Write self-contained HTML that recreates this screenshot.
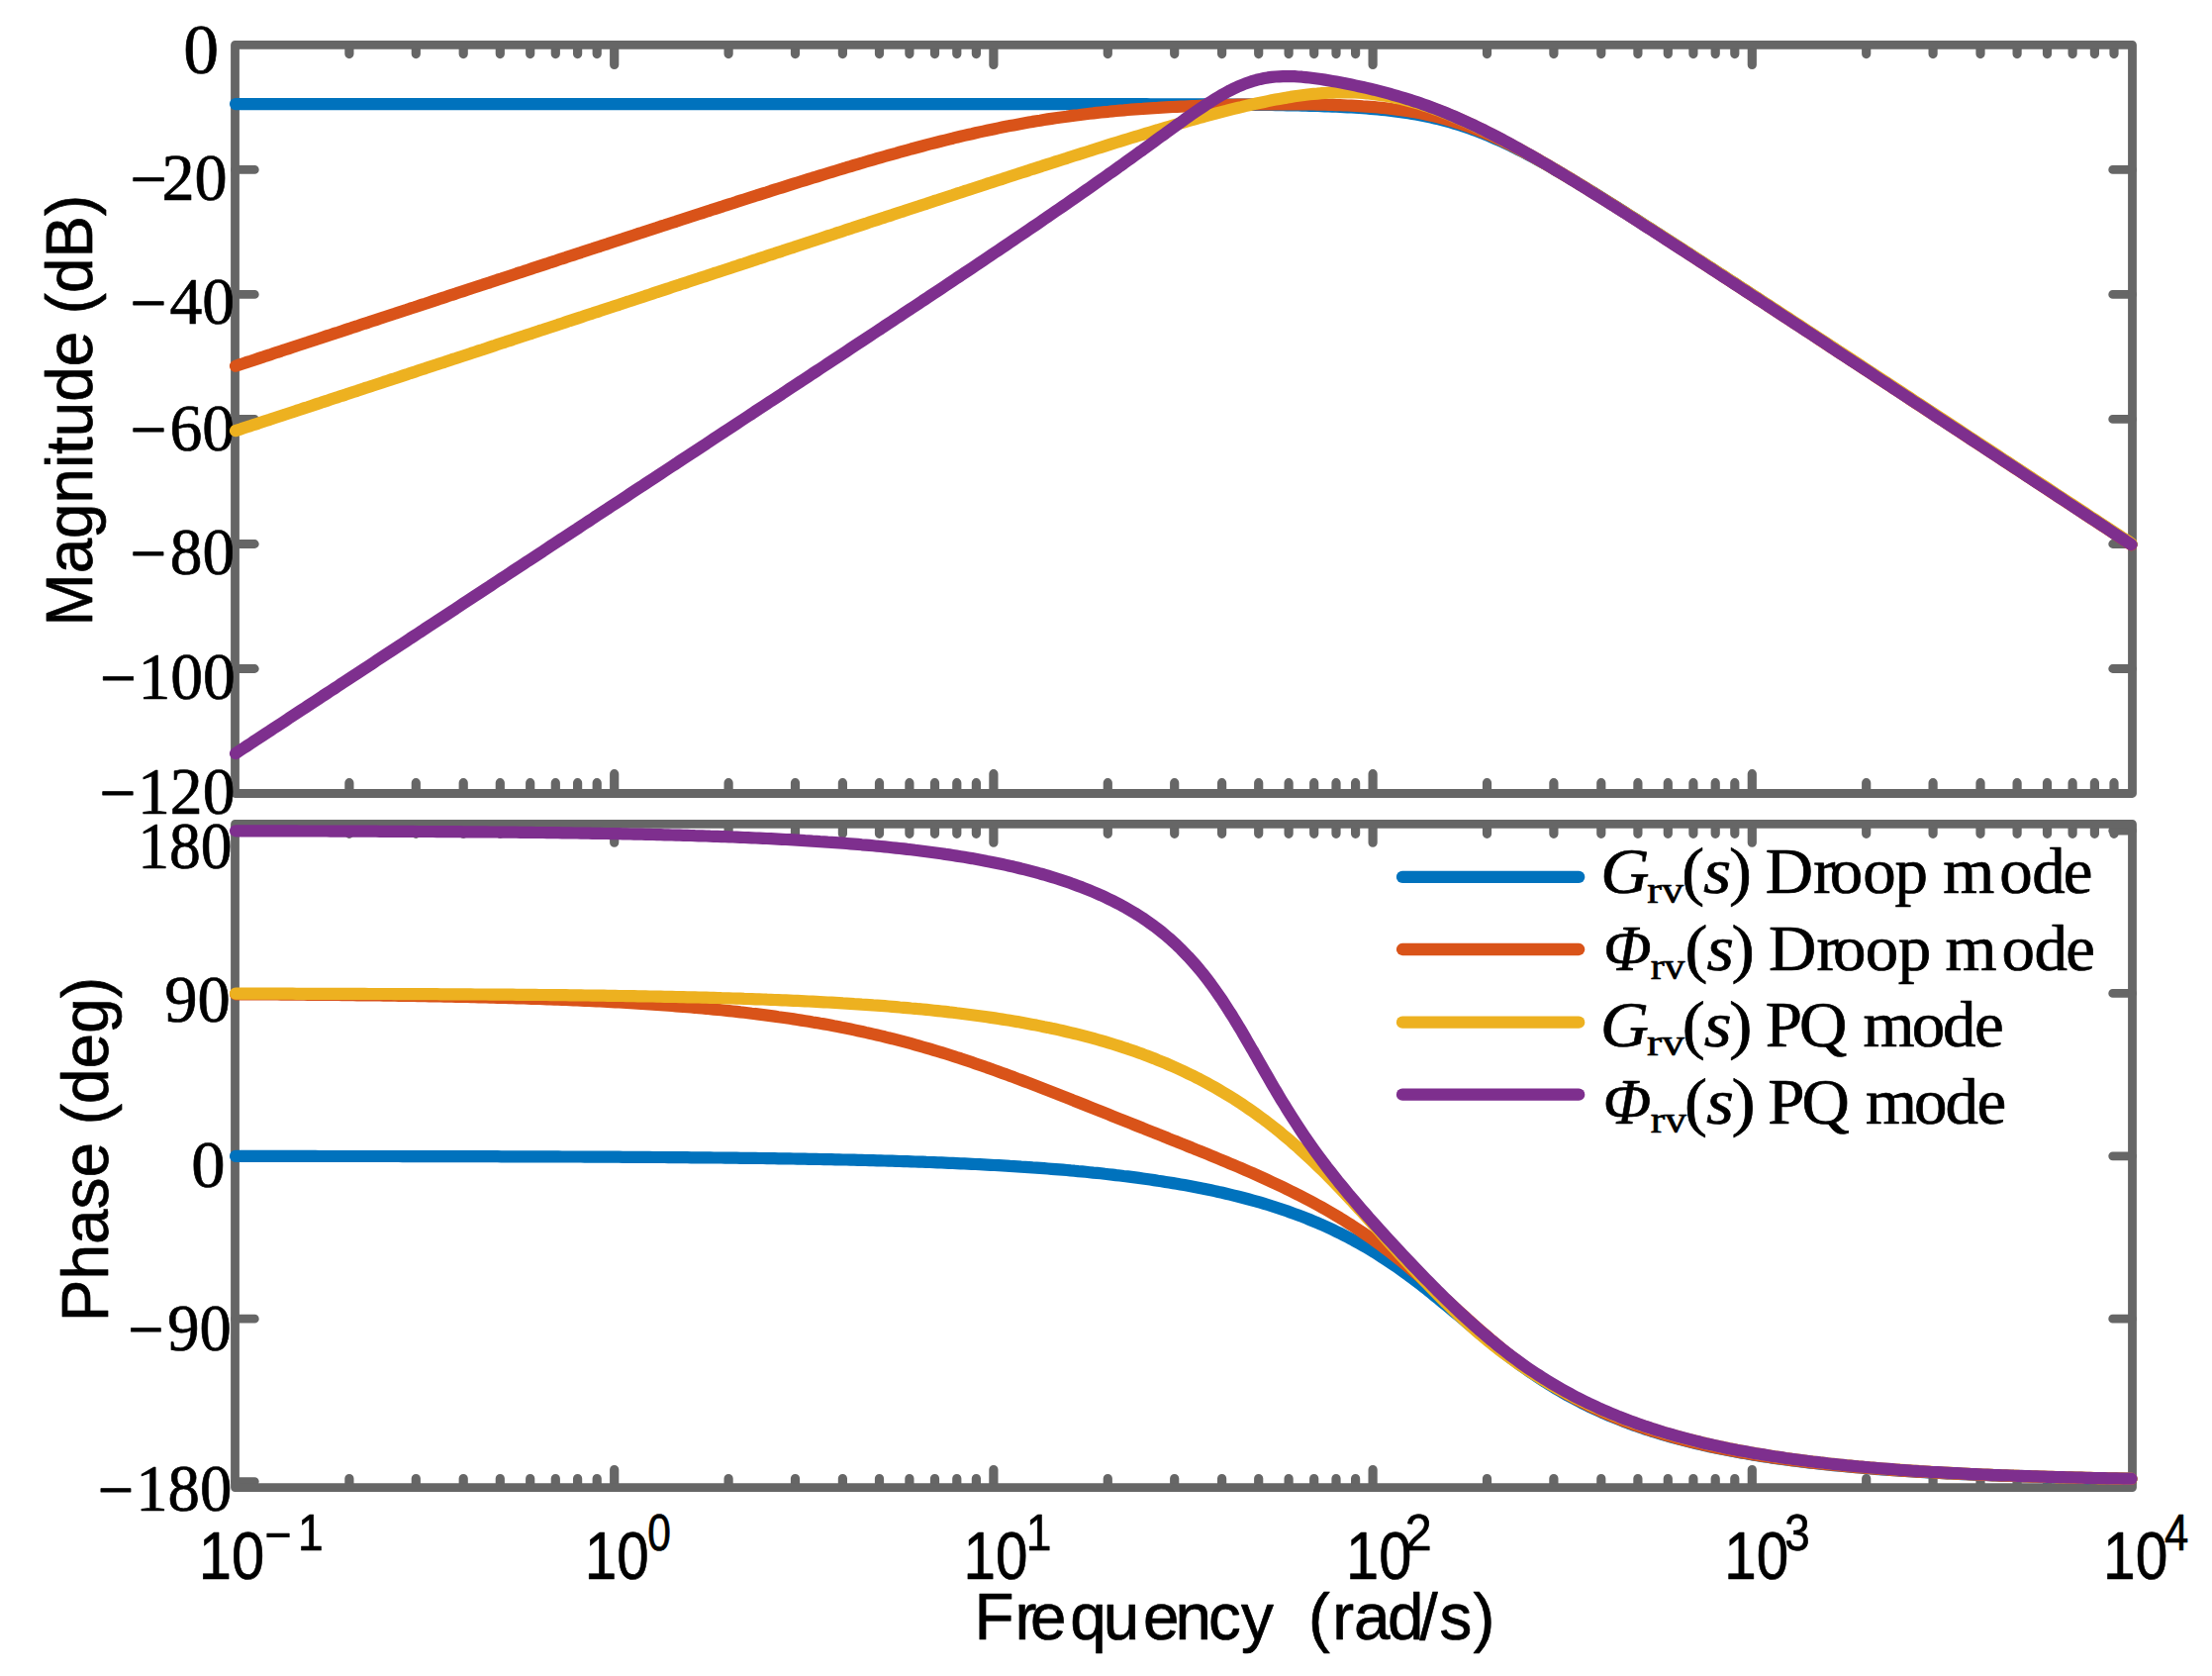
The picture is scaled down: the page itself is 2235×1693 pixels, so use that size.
<!DOCTYPE html>
<html lang="en"><head><meta charset="utf-8"><title>Bode plot</title>
<style>html,body{margin:0;padding:0;background:#fff}svg{display:block}text{fill:#000;stroke:#000;stroke-width:.7px;stroke-linejoin:round}
.sf{font-family:"Liberation Serif",serif}.sa{font-family:"Liberation Sans",sans-serif}.it{font-style:italic}</style></head><body>
<svg width="2235" height="1693" viewBox="0 0 2235 1693">
<rect width="2235" height="1693" fill="#fff"/>
<g fill="none" stroke="#666666" stroke-linecap="round" stroke-linejoin="round">
<path stroke-width="9.2" d="M352.9 46.4v8.2M352.9 800.5v-9.8M420.3 46.4v8.2M420.3 800.5v-9.8M468.2 46.4v8.2M468.2 800.5v-9.8M505.3 46.4v8.2M505.3 800.5v-9.8M535.7 46.4v8.2M535.7 800.5v-9.8M561.3 46.4v8.2M561.3 800.5v-9.8M583.6 46.4v8.2M583.6 800.5v-9.8M603.2 46.4v8.2M603.2 800.5v-9.8M620.7 46.4v19.0M620.7 800.5v-18.8M736.1 46.4v8.2M736.1 800.5v-9.8M803.5 46.4v8.2M803.5 800.5v-9.8M851.4 46.4v8.2M851.4 800.5v-9.8M888.5 46.4v8.2M888.5 800.5v-9.8M918.9 46.4v8.2M918.9 800.5v-9.8M944.5 46.4v8.2M944.5 800.5v-9.8M966.8 46.4v8.2M966.8 800.5v-9.8M986.4 46.4v8.2M986.4 800.5v-9.8M1003.9 46.4v19.0M1003.9 800.5v-18.8M1119.3 46.4v8.2M1119.3 800.5v-9.8M1186.7 46.4v8.2M1186.7 800.5v-9.8M1234.6 46.4v8.2M1234.6 800.5v-9.8M1271.7 46.4v8.2M1271.7 800.5v-9.8M1302.1 46.4v8.2M1302.1 800.5v-9.8M1327.7 46.4v8.2M1327.7 800.5v-9.8M1350.0 46.4v8.2M1350.0 800.5v-9.8M1369.6 46.4v8.2M1369.6 800.5v-9.8M1387.1 46.4v19.0M1387.1 800.5v-18.8M1502.5 46.4v8.2M1502.5 800.5v-9.8M1569.9 46.4v8.2M1569.9 800.5v-9.8M1617.8 46.4v8.2M1617.8 800.5v-9.8M1654.9 46.4v8.2M1654.9 800.5v-9.8M1685.3 46.4v8.2M1685.3 800.5v-9.8M1710.9 46.4v8.2M1710.9 800.5v-9.8M1733.2 46.4v8.2M1733.2 800.5v-9.8M1752.8 46.4v8.2M1752.8 800.5v-9.8M1770.3 46.4v19.0M1770.3 800.5v-18.8M1885.7 46.4v8.2M1885.7 800.5v-9.8M1953.1 46.4v8.2M1953.1 800.5v-9.8M2001.0 46.4v8.2M2001.0 800.5v-9.8M2038.1 46.4v8.2M2038.1 800.5v-9.8M2068.5 46.4v8.2M2068.5 800.5v-9.8M2094.1 46.4v8.2M2094.1 800.5v-9.8M2116.4 46.4v8.2M2116.4 800.5v-9.8M2136.0 46.4v8.2M2136.0 800.5v-9.8M352.9 833.4v8.9M352.9 1501.6v-8.1M420.3 833.4v8.9M420.3 1501.6v-8.1M468.2 833.4v8.9M468.2 1501.6v-8.1M505.3 833.4v8.9M505.3 1501.6v-8.1M535.7 833.4v8.9M535.7 1501.6v-8.1M561.3 833.4v8.9M561.3 1501.6v-8.1M583.6 833.4v8.9M583.6 1501.6v-8.1M603.2 833.4v8.9M603.2 1501.6v-8.1M620.7 833.4v17.8M620.7 1501.6v-17.1M736.1 833.4v8.9M736.1 1501.6v-8.1M803.5 833.4v8.9M803.5 1501.6v-8.1M851.4 833.4v8.9M851.4 1501.6v-8.1M888.5 833.4v8.9M888.5 1501.6v-8.1M918.9 833.4v8.9M918.9 1501.6v-8.1M944.5 833.4v8.9M944.5 1501.6v-8.1M966.8 833.4v8.9M966.8 1501.6v-8.1M986.4 833.4v8.9M986.4 1501.6v-8.1M1003.9 833.4v17.8M1003.9 1501.6v-17.1M1119.3 833.4v8.9M1119.3 1501.6v-8.1M1186.7 833.4v8.9M1186.7 1501.6v-8.1M1234.6 833.4v8.9M1234.6 1501.6v-8.1M1271.7 833.4v8.9M1271.7 1501.6v-8.1M1302.1 833.4v8.9M1302.1 1501.6v-8.1M1327.7 833.4v8.9M1327.7 1501.6v-8.1M1350.0 833.4v8.9M1350.0 1501.6v-8.1M1369.6 833.4v8.9M1369.6 1501.6v-8.1M1387.1 833.4v17.8M1387.1 1501.6v-17.1M1502.5 833.4v8.9M1502.5 1501.6v-8.1M1569.9 833.4v8.9M1569.9 1501.6v-8.1M1617.8 833.4v8.9M1617.8 1501.6v-8.1M1654.9 833.4v8.9M1654.9 1501.6v-8.1M1685.3 833.4v8.9M1685.3 1501.6v-8.1M1710.9 833.4v8.9M1710.9 1501.6v-8.1M1733.2 833.4v8.9M1733.2 1501.6v-8.1M1752.8 833.4v8.9M1752.8 1501.6v-8.1M1770.3 833.4v17.8M1770.3 1501.6v-17.1M1885.7 833.4v8.9M1885.7 1501.6v-8.1M1953.1 833.4v8.9M1953.1 1501.6v-8.1M2001.0 833.4v8.9M2001.0 1501.6v-8.1M2038.1 833.4v8.9M2038.1 1501.6v-8.1M2068.5 833.4v8.9M2068.5 1501.6v-8.1M2094.1 833.4v8.9M2094.1 1501.6v-8.1M2116.4 833.4v8.9M2116.4 1501.6v-8.1M2136.0 833.4v8.9M2136.0 1501.6v-8.1"/>
<path stroke-width="8.8" d="M237.5 171.4h19.8M2154.5 171.4h-19.8M237.5 297.4h19.8M2154.5 297.4h-19.8M237.5 423.4h19.8M2154.5 423.4h-19.8M237.5 549.5h19.8M2154.5 549.5h-19.8M237.5 675.5h19.8M2154.5 675.5h-19.8M237.5 839.0h19.8M2154.5 839.0h-19.8M237.5 1003.4h19.8M2154.5 1003.4h-19.8M237.5 1167.8h19.8M2154.5 1167.8h-19.8M237.5 1332.2h19.8M2154.5 1332.2h-19.8M237.5 1496.6h19.8M2154.5 1496.6h-19.8"/>
<rect x="237.5" y="45.4" width="1917.0" height="756.1" stroke-width="8.8"/>
<rect x="237.5" y="832.4" width="1917.0" height="670.2" stroke-width="8.8"/>
</g>
<text class="sf" x="185.17" y="74.00" font-size="71.0" textLength="35.86" lengthAdjust="spacingAndGlyphs">0</text>
<text class="sf" transform="translate(131.40 202.10) scale(0.9697 1)" font-size="68.3" dx="0 -5.43 0" dy="2 -2">−20</text>
<text class="sf" transform="translate(131.43 326.90) scale(0.9617 1)" font-size="68.3" dx="0 3.17 0" dy="2 -2">−40</text>
<text class="sf" transform="translate(131.43 455.20) scale(0.9623 1)" font-size="68.3" dx="0 3.1 0" dy="2 -2">−60</text>
<text class="sf" transform="translate(131.44 579.50) scale(0.9572 1)" font-size="68.3" dx="0 3.65 0" dy="2 -2">−80</text>
<text class="sf" transform="translate(100.93 706.30) scale(0.9612 1)" font-size="68.3" dx="0 1.54 0 0" dy="2 -2">−100</text>
<text class="sf" transform="translate(100.43 822.20) scale(0.9612 1)" font-size="68.3" dx="0 1.64 0 0" dy="2 -2">−120</text>
<text class="sf" x="139.21" y="877.20" font-size="68.3" textLength="95.41" lengthAdjust="spacingAndGlyphs">180</text>
<text class="sf" x="166.15" y="1031.60" font-size="68.3" textLength="66.58" lengthAdjust="spacingAndGlyphs">90</text>
<text class="sf" x="193.29" y="1198.50" font-size="68.3" textLength="34.33" lengthAdjust="spacingAndGlyphs">0</text>
<text class="sf" transform="translate(129.28 1363.50) scale(0.9465 1)" font-size="68.3" dx="0 3.68 0" dy="2 -2">−90</text>
<text class="sf" transform="translate(98.67 1526.40) scale(0.9494 1)" font-size="68.3" dx="0 2.06 0 0" dy="2 -2">−180</text>
<g fill="none" stroke-width="12.2" stroke-linecap="round" stroke-linejoin="round">
<path stroke="#0072BD" d="M238.0 105.1 L241.9 105.1 L245.7 105.1 L249.6 105.1 L253.4 105.1 L257.2 105.1 L261.1 105.1 L264.9 105.1 L268.7 105.1 L272.6 105.1 L276.4 105.1 L280.2 105.1 L284.1 105.1 L287.9 105.1 L291.7 105.1 L295.6 105.1 L299.4 105.1 L303.2 105.1 L307.1 105.1 L310.9 105.1 L314.7 105.1 L318.6 105.1 L322.4 105.1 L326.2 105.1 L330.1 105.1 L333.9 105.1 L337.8 105.1 L341.6 105.1 L345.4 105.1 L349.3 105.1 L353.1 105.1 L356.9 105.1 L360.8 105.1 L364.6 105.1 L368.4 105.1 L372.3 105.1 L376.1 105.1 L379.9 105.1 L383.8 105.1 L387.6 105.1 L391.4 105.1 L395.3 105.1 L399.1 105.1 L402.9 105.1 L406.8 105.1 L410.6 105.1 L414.4 105.1 L418.3 105.1 L422.1 105.1 L426.0 105.1 L429.8 105.1 L433.6 105.1 L437.5 105.1 L441.3 105.1 L445.1 105.1 L449.0 105.1 L452.8 105.1 L456.6 105.1 L460.5 105.1 L464.3 105.1 L468.1 105.1 L472.0 105.1 L475.8 105.1 L479.6 105.1 L483.5 105.1 L487.3 105.1 L491.1 105.1 L495.0 105.1 L498.8 105.1 L502.6 105.1 L506.5 105.1 L510.3 105.1 L514.1 105.1 L518.0 105.1 L521.8 105.1 L525.7 105.1 L529.5 105.1 L533.3 105.1 L537.2 105.1 L541.0 105.1 L544.8 105.1 L548.7 105.1 L552.5 105.1 L556.3 105.1 L560.2 105.1 L564.0 105.1 L567.8 105.1 L571.7 105.1 L575.5 105.1 L579.3 105.1 L583.2 105.1 L587.0 105.1 L590.8 105.1 L594.7 105.1 L598.5 105.1 L602.3 105.1 L606.2 105.1 L610.0 105.1 L613.9 105.1 L617.7 105.1 L621.5 105.1 L625.4 105.1 L629.2 105.1 L633.0 105.1 L636.9 105.1 L640.7 105.1 L644.5 105.1 L648.4 105.1 L652.2 105.1 L656.0 105.1 L659.9 105.1 L663.7 105.1 L667.5 105.1 L671.4 105.1 L675.2 105.1 L679.0 105.1 L682.9 105.1 L686.7 105.1 L690.5 105.1 L694.4 105.1 L698.2 105.1 L702.1 105.1 L705.9 105.1 L709.7 105.1 L713.6 105.1 L717.4 105.1 L721.2 105.1 L725.1 105.1 L728.9 105.1 L732.7 105.1 L736.6 105.1 L740.4 105.1 L744.2 105.1 L748.1 105.1 L751.9 105.1 L755.7 105.1 L759.6 105.1 L763.4 105.1 L767.2 105.1 L771.1 105.1 L774.9 105.1 L778.7 105.1 L782.6 105.1 L786.4 105.1 L790.3 105.1 L794.1 105.1 L797.9 105.1 L801.8 105.1 L805.6 105.1 L809.4 105.1 L813.3 105.1 L817.1 105.1 L820.9 105.1 L824.8 105.1 L828.6 105.1 L832.4 105.1 L836.3 105.1 L840.1 105.1 L843.9 105.1 L847.8 105.1 L851.6 105.1 L855.4 105.1 L859.3 105.1 L863.1 105.1 L866.9 105.1 L870.8 105.1 L874.6 105.1 L878.4 105.1 L882.3 105.1 L886.1 105.1 L890.0 105.1 L893.8 105.1 L897.6 105.1 L901.5 105.1 L905.3 105.1 L909.1 105.1 L913.0 105.1 L916.8 105.1 L920.6 105.1 L924.5 105.1 L928.3 105.1 L932.1 105.1 L936.0 105.1 L939.8 105.1 L943.6 105.1 L947.5 105.1 L951.3 105.1 L955.1 105.1 L959.0 105.1 L962.8 105.1 L966.6 105.1 L970.5 105.1 L974.3 105.1 L978.2 105.1 L982.0 105.1 L985.8 105.1 L989.7 105.1 L993.5 105.1 L997.3 105.1 L1001.2 105.1 L1005.0 105.1 L1008.8 105.1 L1012.7 105.1 L1016.5 105.1 L1020.3 105.1 L1024.2 105.1 L1028.0 105.1 L1031.8 105.1 L1035.7 105.1 L1039.5 105.1 L1043.3 105.1 L1047.2 105.1 L1051.0 105.1 L1054.8 105.1 L1058.7 105.1 L1062.5 105.1 L1066.4 105.1 L1070.2 105.1 L1074.0 105.1 L1077.9 105.1 L1081.7 105.1 L1085.5 105.1 L1089.4 105.2 L1093.2 105.2 L1097.0 105.2 L1100.9 105.2 L1104.7 105.2 L1108.5 105.2 L1112.4 105.2 L1116.2 105.2 L1120.0 105.2 L1123.9 105.2 L1127.7 105.2 L1131.5 105.2 L1135.4 105.2 L1139.2 105.2 L1143.0 105.2 L1146.9 105.2 L1150.7 105.2 L1154.6 105.2 L1158.4 105.2 L1162.2 105.3 L1166.1 105.3 L1169.9 105.3 L1173.7 105.3 L1177.6 105.3 L1181.4 105.3 L1185.2 105.3 L1189.1 105.3 L1192.9 105.3 L1196.7 105.3 L1200.6 105.4 L1204.4 105.4 L1208.2 105.4 L1212.1 105.4 L1215.9 105.4 L1219.7 105.4 L1223.6 105.5 L1227.4 105.5 L1231.2 105.5 L1235.1 105.5 L1238.9 105.6 L1242.7 105.6 L1246.6 105.6 L1250.4 105.6 L1254.3 105.7 L1258.1 105.7 L1261.9 105.7 L1265.8 105.8 L1269.6 105.8 L1273.4 105.9 L1277.3 105.9 L1281.1 106.0 L1284.9 106.0 L1288.8 106.1 L1292.6 106.1 L1296.4 106.2 L1300.3 106.3 L1304.1 106.3 L1307.9 106.4 L1311.8 106.5 L1315.6 106.6 L1319.4 106.7 L1323.3 106.8 L1327.1 106.9 L1330.9 107.0 L1334.8 107.1 L1338.6 107.3 L1342.5 107.4 L1346.3 107.6 L1350.1 107.7 L1354.0 107.9 L1357.8 108.1 L1361.6 108.3 L1365.5 108.5 L1369.3 108.7 L1373.1 109.0 L1377.0 109.2 L1380.8 109.5 L1384.6 109.8 L1388.5 110.1 L1392.3 110.5 L1396.1 110.9 L1400.0 111.3 L1403.8 111.7 L1407.6 112.1 L1411.5 112.6 L1415.3 113.1 L1419.1 113.7 L1423.0 114.3 L1426.8 114.9 L1430.7 115.6 L1434.5 116.3 L1438.3 117.0 L1442.2 117.8 L1446.0 118.6 L1449.8 119.5 L1453.7 120.4 L1457.5 121.4 L1461.3 122.4 L1465.2 123.5 L1469.0 124.6 L1472.8 125.8 L1476.7 127.0 L1480.5 128.3 L1484.3 129.6 L1488.2 131.0 L1492.0 132.4 L1495.8 133.9 L1499.7 135.4 L1503.5 137.0 L1507.3 138.6 L1511.2 140.3 L1515.0 142.0 L1518.9 143.7 L1522.7 145.5 L1526.5 147.4 L1530.4 149.3 L1534.2 151.2 L1538.0 153.1 L1541.9 155.1 L1545.7 157.2 L1549.5 159.2 L1553.4 161.3 L1557.2 163.4 L1561.0 165.5 L1564.9 167.7 L1568.7 169.9 L1572.5 172.1 L1576.4 174.3 L1580.2 176.6 L1584.0 178.9 L1587.9 181.1 L1591.7 183.4 L1595.5 185.7 L1599.4 188.1 L1603.2 190.4 L1607.0 192.8 L1610.9 195.1 L1614.7 197.5 L1618.6 199.9 L1622.4 202.3 L1626.2 204.7 L1630.1 207.1 L1633.9 209.5 L1637.7 211.9 L1641.6 214.4 L1645.4 216.8 L1649.2 219.3 L1653.1 221.7 L1656.9 224.2 L1660.7 226.6 L1664.6 229.1 L1668.4 231.5 L1672.2 234.0 L1676.1 236.5 L1679.9 239.0 L1683.7 241.4 L1687.6 243.9 L1691.4 246.4 L1695.2 248.9 L1699.1 251.4 L1702.9 253.9 L1706.8 256.3 L1710.6 258.8 L1714.4 261.3 L1718.3 263.8 L1722.1 266.3 L1725.9 268.8 L1729.8 271.3 L1733.6 273.8 L1737.4 276.3 L1741.3 278.8 L1745.1 281.3 L1748.9 283.8 L1752.8 286.4 L1756.6 288.9 L1760.4 291.4 L1764.3 293.9 L1768.1 296.4 L1771.9 298.9 L1775.8 301.4 L1779.6 303.9 L1783.4 306.4 L1787.3 308.9 L1791.1 311.5 L1795.0 314.0 L1798.8 316.5 L1802.6 319.0 L1806.5 321.5 L1810.3 324.0 L1814.1 326.6 L1818.0 329.1 L1821.8 331.6 L1825.6 334.1 L1829.5 336.6 L1833.3 339.1 L1837.1 341.7 L1841.0 344.2 L1844.8 346.7 L1848.6 349.2 L1852.5 351.7 L1856.3 354.2 L1860.1 356.8 L1864.0 359.3 L1867.8 361.8 L1871.6 364.3 L1875.5 366.8 L1879.3 369.4 L1883.2 371.9 L1887.0 374.4 L1890.8 376.9 L1894.7 379.4 L1898.5 382.0 L1902.3 384.5 L1906.2 387.0 L1910.0 389.5 L1913.8 392.0 L1917.7 394.6 L1921.5 397.1 L1925.3 399.6 L1929.2 402.1 L1933.0 404.6 L1936.8 407.2 L1940.7 409.7 L1944.5 412.2 L1948.3 414.7 L1952.2 417.2 L1956.0 419.8 L1959.8 422.3 L1963.7 424.8 L1967.5 427.3 L1971.3 429.8 L1975.2 432.4 L1979.0 434.9 L1982.9 437.4 L1986.7 439.9 L1990.5 442.5 L1994.4 445.0 L1998.2 447.5 L2002.0 450.0 L2005.9 452.5 L2009.7 455.1 L2013.5 457.6 L2017.4 460.1 L2021.2 462.6 L2025.0 465.1 L2028.9 467.7 L2032.7 470.2 L2036.5 472.7 L2040.4 475.2 L2044.2 477.8 L2048.0 480.3 L2051.9 482.8 L2055.7 485.3 L2059.5 487.8 L2063.4 490.4 L2067.2 492.9 L2071.1 495.4 L2074.9 497.9 L2078.7 500.5 L2082.6 503.0 L2086.4 505.5 L2090.2 508.0 L2094.1 510.5 L2097.9 513.1 L2101.7 515.6 L2105.6 518.1 L2109.4 520.6 L2113.2 523.2 L2117.1 525.7 L2120.9 528.2 L2124.7 530.7 L2128.6 533.2 L2132.4 535.8 L2136.2 538.3 L2140.1 540.8 L2143.9 543.3 L2147.7 545.9 L2151.6 548.4 L2153.5 549.6"/>
<path stroke="#D95319" d="M238.0 369.7 L241.9 368.4 L245.7 367.2 L249.6 365.9 L253.4 364.7 L257.2 363.4 L261.1 362.1 L264.9 360.9 L268.7 359.6 L272.6 358.4 L276.4 357.1 L280.2 355.8 L284.1 354.6 L287.9 353.3 L291.7 352.1 L295.6 350.8 L299.4 349.5 L303.2 348.3 L307.1 347.0 L310.9 345.8 L314.7 344.5 L318.6 343.2 L322.4 342.0 L326.2 340.7 L330.1 339.4 L333.9 338.2 L337.8 336.9 L341.6 335.7 L345.4 334.4 L349.3 333.1 L353.1 331.9 L356.9 330.6 L360.8 329.4 L364.6 328.1 L368.4 326.8 L372.3 325.6 L376.1 324.3 L379.9 323.1 L383.8 321.8 L387.6 320.5 L391.4 319.3 L395.3 318.0 L399.1 316.8 L402.9 315.5 L406.8 314.2 L410.6 313.0 L414.4 311.7 L418.3 310.5 L422.1 309.2 L426.0 307.9 L429.8 306.7 L433.6 305.4 L437.5 304.1 L441.3 302.9 L445.1 301.6 L449.0 300.4 L452.8 299.1 L456.6 297.8 L460.5 296.6 L464.3 295.3 L468.1 294.1 L472.0 292.8 L475.8 291.5 L479.6 290.3 L483.5 289.0 L487.3 287.8 L491.1 286.5 L495.0 285.3 L498.8 284.0 L502.6 282.7 L506.5 281.5 L510.3 280.2 L514.1 279.0 L518.0 277.7 L521.8 276.4 L525.7 275.2 L529.5 273.9 L533.3 272.7 L537.2 271.4 L541.0 270.1 L544.8 268.9 L548.7 267.6 L552.5 266.4 L556.3 265.1 L560.2 263.9 L564.0 262.6 L567.8 261.3 L571.7 260.1 L575.5 258.8 L579.3 257.6 L583.2 256.3 L587.0 255.1 L590.8 253.8 L594.7 252.5 L598.5 251.3 L602.3 250.0 L606.2 248.8 L610.0 247.5 L613.9 246.3 L617.7 245.0 L621.5 243.8 L625.4 242.5 L629.2 241.3 L633.0 240.0 L636.9 238.7 L640.7 237.5 L644.5 236.2 L648.4 235.0 L652.2 233.7 L656.0 232.5 L659.9 231.2 L663.7 230.0 L667.5 228.7 L671.4 227.5 L675.2 226.2 L679.0 225.0 L682.9 223.8 L686.7 222.5 L690.5 221.3 L694.4 220.0 L698.2 218.8 L702.1 217.5 L705.9 216.3 L709.7 215.1 L713.6 213.8 L717.4 212.6 L721.2 211.3 L725.1 210.1 L728.9 208.9 L732.7 207.6 L736.6 206.4 L740.4 205.2 L744.2 203.9 L748.1 202.7 L751.9 201.5 L755.7 200.3 L759.6 199.0 L763.4 197.8 L767.2 196.6 L771.1 195.4 L774.9 194.2 L778.7 192.9 L782.6 191.7 L786.4 190.5 L790.3 189.3 L794.1 188.1 L797.9 186.9 L801.8 185.7 L805.6 184.5 L809.4 183.3 L813.3 182.1 L817.1 180.9 L820.9 179.7 L824.8 178.6 L828.6 177.4 L832.4 176.2 L836.3 175.0 L840.1 173.9 L843.9 172.7 L847.8 171.5 L851.6 170.4 L855.4 169.2 L859.3 168.1 L863.1 166.9 L866.9 165.8 L870.8 164.7 L874.6 163.5 L878.4 162.4 L882.3 161.3 L886.1 160.2 L890.0 159.1 L893.8 158.0 L897.6 156.9 L901.5 155.8 L905.3 154.8 L909.1 153.7 L913.0 152.6 L916.8 151.6 L920.6 150.5 L924.5 149.5 L928.3 148.5 L932.1 147.5 L936.0 146.4 L939.8 145.4 L943.6 144.5 L947.5 143.5 L951.3 142.5 L955.1 141.6 L959.0 140.6 L962.8 139.7 L966.6 138.7 L970.5 137.8 L974.3 136.9 L978.2 136.0 L982.0 135.2 L985.8 134.3 L989.7 133.4 L993.5 132.6 L997.3 131.8 L1001.2 131.0 L1005.0 130.2 L1008.8 129.4 L1012.7 128.6 L1016.5 127.8 L1020.3 127.1 L1024.2 126.4 L1028.0 125.7 L1031.8 125.0 L1035.7 124.3 L1039.5 123.6 L1043.3 122.9 L1047.2 122.3 L1051.0 121.7 L1054.8 121.0 L1058.7 120.4 L1062.5 119.9 L1066.4 119.3 L1070.2 118.7 L1074.0 118.2 L1077.9 117.7 L1081.7 117.1 L1085.5 116.6 L1089.4 116.2 L1093.2 115.7 L1097.0 115.2 L1100.9 114.8 L1104.7 114.4 L1108.5 113.9 L1112.4 113.5 L1116.2 113.1 L1120.0 112.8 L1123.9 112.4 L1127.7 112.0 L1131.5 111.7 L1135.4 111.4 L1139.2 111.0 L1143.0 110.7 L1146.9 110.4 L1150.7 110.1 L1154.6 109.9 L1158.4 109.6 L1162.2 109.3 L1166.1 109.1 L1169.9 108.9 L1173.7 108.6 L1177.6 108.4 L1181.4 108.2 L1185.2 108.0 L1189.1 107.8 L1192.9 107.6 L1196.7 107.5 L1200.6 107.3 L1204.4 107.1 L1208.2 107.0 L1212.1 106.8 L1215.9 106.7 L1219.7 106.6 L1223.6 106.4 L1227.4 106.3 L1231.2 106.2 L1235.1 106.1 L1238.9 106.0 L1242.7 105.9 L1246.6 105.8 L1250.4 105.7 L1254.3 105.7 L1258.1 105.6 L1261.9 105.5 L1265.8 105.5 L1269.6 105.4 L1273.4 105.4 L1277.3 105.3 L1281.1 105.3 L1284.9 105.3 L1288.8 105.3 L1292.6 105.3 L1296.4 105.3 L1300.3 105.3 L1304.1 105.3 L1307.9 105.3 L1311.8 105.3 L1315.6 105.3 L1319.4 105.4 L1323.3 105.4 L1327.1 105.5 L1330.9 105.6 L1334.8 105.6 L1338.6 105.7 L1342.5 105.8 L1346.3 105.9 L1350.1 106.1 L1354.0 106.2 L1357.8 106.3 L1361.6 106.5 L1365.5 106.7 L1369.3 106.9 L1373.1 107.1 L1377.0 107.4 L1380.8 107.6 L1384.6 107.9 L1388.5 108.2 L1392.3 108.5 L1396.1 108.9 L1400.0 109.3 L1403.8 109.7 L1407.6 110.2 L1411.5 110.6 L1415.3 111.1 L1419.1 111.7 L1423.0 112.3 L1426.8 112.9 L1430.7 113.6 L1434.5 114.3 L1438.3 115.1 L1442.2 115.9 L1446.0 116.7 L1449.8 117.6 L1453.7 118.6 L1457.5 119.6 L1461.3 120.7 L1465.2 121.8 L1469.0 122.9 L1472.8 124.2 L1476.7 125.4 L1480.5 126.8 L1484.3 128.1 L1488.2 129.6 L1492.0 131.0 L1495.8 132.6 L1499.7 134.2 L1503.5 135.8 L1507.3 137.5 L1511.2 139.2 L1515.0 141.0 L1518.9 142.8 L1522.7 144.7 L1526.5 146.6 L1530.4 148.5 L1534.2 150.5 L1538.0 152.5 L1541.9 154.6 L1545.7 156.6 L1549.5 158.7 L1553.4 160.9 L1557.2 163.0 L1561.0 165.2 L1564.9 167.4 L1568.7 169.7 L1572.5 171.9 L1576.4 174.2 L1580.2 176.5 L1584.0 178.8 L1587.9 181.1 L1591.7 183.4 L1595.5 185.8 L1599.4 188.1 L1603.2 190.5 L1607.0 192.9 L1610.9 195.3 L1614.7 197.7 L1618.6 200.1 L1622.4 202.5 L1626.2 204.9 L1630.1 207.3 L1633.9 209.8 L1637.7 212.2 L1641.6 214.7 L1645.4 217.1 L1649.2 219.6 L1653.1 222.0 L1656.9 224.5 L1660.7 227.0 L1664.6 229.5 L1668.4 231.9 L1672.2 234.4 L1676.1 236.9 L1679.9 239.4 L1683.7 241.9 L1687.6 244.4 L1691.4 246.9 L1695.2 249.3 L1699.1 251.8 L1702.9 254.3 L1706.8 256.8 L1710.6 259.3 L1714.4 261.8 L1718.3 264.3 L1722.1 266.8 L1725.9 269.4 L1729.8 271.9 L1733.6 274.4 L1737.4 276.9 L1741.3 279.4 L1745.1 281.9 L1748.9 284.4 L1752.8 286.9 L1756.6 289.4 L1760.4 291.9 L1764.3 294.4 L1768.1 297.0 L1771.9 299.5 L1775.8 302.0 L1779.6 304.5 L1783.4 307.0 L1787.3 309.5 L1791.1 312.1 L1795.0 314.6 L1798.8 317.1 L1802.6 319.6 L1806.5 322.1 L1810.3 324.6 L1814.1 327.2 L1818.0 329.7 L1821.8 332.2 L1825.6 334.7 L1829.5 337.2 L1833.3 339.7 L1837.1 342.3 L1841.0 344.8 L1844.8 347.3 L1848.6 349.8 L1852.5 352.3 L1856.3 354.9 L1860.1 357.4 L1864.0 359.9 L1867.8 362.4 L1871.6 364.9 L1875.5 367.5 L1879.3 370.0 L1883.2 372.5 L1887.0 375.0 L1890.8 377.5 L1894.7 380.1 L1898.5 382.6 L1902.3 385.1 L1906.2 387.6 L1910.0 390.1 L1913.8 392.7 L1917.7 395.2 L1921.5 397.7 L1925.3 400.2 L1929.2 402.8 L1933.0 405.3 L1936.8 407.8 L1940.7 410.3 L1944.5 412.8 L1948.3 415.4 L1952.2 417.9 L1956.0 420.4 L1959.8 422.9 L1963.7 425.4 L1967.5 428.0 L1971.3 430.5 L1975.2 433.0 L1979.0 435.5 L1982.9 438.1 L1986.7 440.6 L1990.5 443.1 L1994.4 445.6 L1998.2 448.1 L2002.0 450.7 L2005.9 453.2 L2009.7 455.7 L2013.5 458.2 L2017.4 460.7 L2021.2 463.3 L2025.0 465.8 L2028.9 468.3 L2032.7 470.8 L2036.5 473.4 L2040.4 475.9 L2044.2 478.4 L2048.0 480.9 L2051.9 483.4 L2055.7 486.0 L2059.5 488.5 L2063.4 491.0 L2067.2 493.5 L2071.1 496.1 L2074.9 498.6 L2078.7 501.1 L2082.6 503.6 L2086.4 506.1 L2090.2 508.7 L2094.1 511.2 L2097.9 513.7 L2101.7 516.2 L2105.6 518.8 L2109.4 521.3 L2113.2 523.8 L2117.1 526.3 L2120.9 528.8 L2124.7 531.4 L2128.6 533.9 L2132.4 536.4 L2136.2 538.9 L2140.1 541.4 L2143.9 544.0 L2147.7 546.5 L2151.6 549.0 L2153.5 550.3"/>
<path stroke="#EDB120" d="M238.0 435.1 L241.9 433.9 L245.7 432.6 L249.6 431.3 L253.4 430.1 L257.2 428.8 L261.1 427.6 L264.9 426.3 L268.7 425.0 L272.6 423.8 L276.4 422.5 L280.2 421.3 L284.1 420.0 L287.9 418.7 L291.7 417.5 L295.6 416.2 L299.4 414.9 L303.2 413.7 L307.1 412.4 L310.9 411.2 L314.7 409.9 L318.6 408.6 L322.4 407.4 L326.2 406.1 L330.1 404.9 L333.9 403.6 L337.8 402.3 L341.6 401.1 L345.4 399.8 L349.3 398.6 L353.1 397.3 L356.9 396.0 L360.8 394.8 L364.6 393.5 L368.4 392.2 L372.3 391.0 L376.1 389.7 L379.9 388.5 L383.8 387.2 L387.6 385.9 L391.4 384.7 L395.3 383.4 L399.1 382.2 L402.9 380.9 L406.8 379.6 L410.6 378.4 L414.4 377.1 L418.3 375.9 L422.1 374.6 L426.0 373.3 L429.8 372.1 L433.6 370.8 L437.5 369.5 L441.3 368.3 L445.1 367.0 L449.0 365.8 L452.8 364.5 L456.6 363.2 L460.5 362.0 L464.3 360.7 L468.1 359.5 L472.0 358.2 L475.8 356.9 L479.6 355.7 L483.5 354.4 L487.3 353.2 L491.1 351.9 L495.0 350.6 L498.8 349.4 L502.6 348.1 L506.5 346.8 L510.3 345.6 L514.1 344.3 L518.0 343.1 L521.8 341.8 L525.7 340.5 L529.5 339.3 L533.3 338.0 L537.2 336.8 L541.0 335.5 L544.8 334.2 L548.7 333.0 L552.5 331.7 L556.3 330.5 L560.2 329.2 L564.0 327.9 L567.8 326.7 L571.7 325.4 L575.5 324.1 L579.3 322.9 L583.2 321.6 L587.0 320.4 L590.8 319.1 L594.7 317.8 L598.5 316.6 L602.3 315.3 L606.2 314.1 L610.0 312.8 L613.9 311.5 L617.7 310.3 L621.5 309.0 L625.4 307.8 L629.2 306.5 L633.0 305.2 L636.9 304.0 L640.7 302.7 L644.5 301.5 L648.4 300.2 L652.2 298.9 L656.0 297.7 L659.9 296.4 L663.7 295.1 L667.5 293.9 L671.4 292.6 L675.2 291.4 L679.0 290.1 L682.9 288.8 L686.7 287.6 L690.5 286.3 L694.4 285.1 L698.2 283.8 L702.1 282.5 L705.9 281.3 L709.7 280.0 L713.6 278.8 L717.4 277.5 L721.2 276.2 L725.1 275.0 L728.9 273.7 L732.7 272.5 L736.6 271.2 L740.4 269.9 L744.2 268.7 L748.1 267.4 L751.9 266.2 L755.7 264.9 L759.6 263.6 L763.4 262.4 L767.2 261.1 L771.1 259.9 L774.9 258.6 L778.7 257.3 L782.6 256.1 L786.4 254.8 L790.3 253.6 L794.1 252.3 L797.9 251.0 L801.8 249.8 L805.6 248.5 L809.4 247.3 L813.3 246.0 L817.1 244.7 L820.9 243.5 L824.8 242.2 L828.6 241.0 L832.4 239.7 L836.3 238.4 L840.1 237.2 L843.9 235.9 L847.8 234.7 L851.6 233.4 L855.4 232.1 L859.3 230.9 L863.1 229.6 L866.9 228.4 L870.8 227.1 L874.6 225.9 L878.4 224.6 L882.3 223.3 L886.1 222.1 L890.0 220.8 L893.8 219.6 L897.6 218.3 L901.5 217.1 L905.3 215.8 L909.1 214.5 L913.0 213.3 L916.8 212.0 L920.6 210.8 L924.5 209.5 L928.3 208.3 L932.1 207.0 L936.0 205.8 L939.8 204.5 L943.6 203.2 L947.5 202.0 L951.3 200.7 L955.1 199.5 L959.0 198.2 L962.8 197.0 L966.6 195.7 L970.5 194.5 L974.3 193.2 L978.2 192.0 L982.0 190.7 L985.8 189.5 L989.7 188.2 L993.5 187.0 L997.3 185.7 L1001.2 184.5 L1005.0 183.2 L1008.8 182.0 L1012.7 180.8 L1016.5 179.5 L1020.3 178.3 L1024.2 177.0 L1028.0 175.8 L1031.8 174.5 L1035.7 173.3 L1039.5 172.1 L1043.3 170.8 L1047.2 169.6 L1051.0 168.4 L1054.8 167.1 L1058.7 165.9 L1062.5 164.7 L1066.4 163.4 L1070.2 162.2 L1074.0 161.0 L1077.9 159.8 L1081.7 158.5 L1085.5 157.3 L1089.4 156.1 L1093.2 154.9 L1097.0 153.7 L1100.9 152.5 L1104.7 151.2 L1108.5 150.0 L1112.4 148.8 L1116.2 147.6 L1120.0 146.4 L1123.9 145.2 L1127.7 144.0 L1131.5 142.9 L1135.4 141.7 L1139.2 140.5 L1143.0 139.3 L1146.9 138.1 L1150.7 137.0 L1154.6 135.8 L1158.4 134.6 L1162.2 133.5 L1166.1 132.3 L1169.9 131.2 L1173.7 130.0 L1177.6 128.9 L1181.4 127.8 L1185.2 126.7 L1189.1 125.5 L1192.9 124.4 L1196.7 123.3 L1200.6 122.2 L1204.4 121.2 L1208.2 120.1 L1212.1 119.0 L1215.9 118.0 L1219.7 116.9 L1223.6 115.9 L1227.4 114.9 L1231.2 113.8 L1235.1 112.8 L1238.9 111.9 L1242.7 110.9 L1246.6 109.9 L1250.4 109.0 L1254.3 108.1 L1258.1 107.1 L1261.9 106.3 L1265.8 105.4 L1269.6 104.5 L1273.4 103.7 L1277.3 102.9 L1281.1 102.1 L1284.9 101.3 L1288.8 100.6 L1292.6 99.9 L1296.4 99.2 L1300.3 98.6 L1304.1 97.9 L1307.9 97.3 L1311.8 96.8 L1315.6 96.3 L1319.4 95.8 L1323.3 95.3 L1327.1 94.9 L1330.9 94.6 L1334.8 94.2 L1338.6 94.0 L1342.5 93.7 L1346.3 93.6 L1350.1 93.4 L1354.0 93.3 L1357.8 93.3 L1361.6 93.3 L1365.5 93.4 L1369.3 93.5 L1373.1 93.7 L1377.0 94.0 L1380.8 94.3 L1384.6 94.7 L1388.5 95.1 L1392.3 95.6 L1396.1 96.2 L1400.0 96.8 L1403.8 97.4 L1407.6 98.2 L1411.5 99.0 L1415.3 99.9 L1419.1 100.8 L1423.0 101.8 L1426.8 102.8 L1430.7 103.9 L1434.5 105.0 L1438.3 106.3 L1442.2 107.5 L1446.0 108.8 L1449.8 110.2 L1453.7 111.6 L1457.5 113.1 L1461.3 114.6 L1465.2 116.2 L1469.0 117.8 L1472.8 119.4 L1476.7 121.1 L1480.5 122.8 L1484.3 124.5 L1488.2 126.3 L1492.0 128.2 L1495.8 130.0 L1499.7 131.9 L1503.5 133.8 L1507.3 135.8 L1511.2 137.7 L1515.0 139.7 L1518.9 141.8 L1522.7 143.8 L1526.5 145.9 L1530.4 148.0 L1534.2 150.1 L1538.0 152.2 L1541.9 154.4 L1545.7 156.5 L1549.5 158.7 L1553.4 160.9 L1557.2 163.1 L1561.0 165.4 L1564.9 167.6 L1568.7 169.9 L1572.5 172.1 L1576.4 174.4 L1580.2 176.7 L1584.0 179.0 L1587.9 181.3 L1591.7 183.6 L1595.5 186.0 L1599.4 188.3 L1603.2 190.6 L1607.0 193.0 L1610.9 195.4 L1614.7 197.7 L1618.6 200.1 L1622.4 202.5 L1626.2 204.9 L1630.1 207.3 L1633.9 209.7 L1637.7 212.1 L1641.6 214.5 L1645.4 216.9 L1649.2 219.4 L1653.1 221.8 L1656.9 224.2 L1660.7 226.7 L1664.6 229.1 L1668.4 231.5 L1672.2 234.0 L1676.1 236.4 L1679.9 238.9 L1683.7 241.4 L1687.6 243.8 L1691.4 246.3 L1695.2 248.7 L1699.1 251.2 L1702.9 253.7 L1706.8 256.2 L1710.6 258.6 L1714.4 261.1 L1718.3 263.6 L1722.1 266.1 L1725.9 268.6 L1729.8 271.0 L1733.6 273.5 L1737.4 276.0 L1741.3 278.5 L1745.1 281.0 L1748.9 283.5 L1752.8 286.0 L1756.6 288.5 L1760.4 291.0 L1764.3 293.5 L1768.1 296.0 L1771.9 298.5 L1775.8 301.0 L1779.6 303.5 L1783.4 306.0 L1787.3 308.5 L1791.1 311.0 L1795.0 313.5 L1798.8 316.0 L1802.6 318.5 L1806.5 321.0 L1810.3 323.5 L1814.1 326.0 L1818.0 328.5 L1821.8 331.0 L1825.6 333.6 L1829.5 336.1 L1833.3 338.6 L1837.1 341.1 L1841.0 343.6 L1844.8 346.1 L1848.6 348.6 L1852.5 351.1 L1856.3 353.7 L1860.1 356.2 L1864.0 358.7 L1867.8 361.2 L1871.6 363.7 L1875.5 366.2 L1879.3 368.7 L1883.2 371.3 L1887.0 373.8 L1890.8 376.3 L1894.7 378.8 L1898.5 381.3 L1902.3 383.8 L1906.2 386.4 L1910.0 388.9 L1913.8 391.4 L1917.7 393.9 L1921.5 396.4 L1925.3 399.0 L1929.2 401.5 L1933.0 404.0 L1936.8 406.5 L1940.7 409.0 L1944.5 411.6 L1948.3 414.1 L1952.2 416.6 L1956.0 419.1 L1959.8 421.6 L1963.7 424.2 L1967.5 426.7 L1971.3 429.2 L1975.2 431.7 L1979.0 434.2 L1982.9 436.8 L1986.7 439.3 L1990.5 441.8 L1994.4 444.3 L1998.2 446.8 L2002.0 449.4 L2005.9 451.9 L2009.7 454.4 L2013.5 456.9 L2017.4 459.4 L2021.2 462.0 L2025.0 464.5 L2028.9 467.0 L2032.7 469.5 L2036.5 472.0 L2040.4 474.6 L2044.2 477.1 L2048.0 479.6 L2051.9 482.1 L2055.7 484.7 L2059.5 487.2 L2063.4 489.7 L2067.2 492.2 L2071.1 494.7 L2074.9 497.3 L2078.7 499.8 L2082.6 502.3 L2086.4 504.8 L2090.2 507.3 L2094.1 509.9 L2097.9 512.4 L2101.7 514.9 L2105.6 517.4 L2109.4 520.0 L2113.2 522.5 L2117.1 525.0 L2120.9 527.5 L2124.7 530.0 L2128.6 532.6 L2132.4 535.1 L2136.2 537.6 L2140.1 540.1 L2143.9 542.7 L2147.7 545.2 L2151.6 547.7 L2153.5 549.0"/>
<path stroke="#7E2F8E" d="M238.0 761.1 L241.9 758.5 L245.7 756.0 L249.6 753.5 L253.4 751.0 L257.2 748.4 L261.1 745.9 L264.9 743.4 L268.7 740.9 L272.6 738.4 L276.4 735.8 L280.2 733.3 L284.1 730.8 L287.9 728.3 L291.7 725.7 L295.6 723.2 L299.4 720.7 L303.2 718.2 L307.1 715.7 L310.9 713.1 L314.7 710.6 L318.6 708.1 L322.4 705.6 L326.2 703.0 L330.1 700.5 L333.9 698.0 L337.8 695.5 L341.6 693.0 L345.4 690.4 L349.3 687.9 L353.1 685.4 L356.9 682.9 L360.8 680.3 L364.6 677.8 L368.4 675.3 L372.3 672.8 L376.1 670.3 L379.9 667.7 L383.8 665.2 L387.6 662.7 L391.4 660.2 L395.3 657.6 L399.1 655.1 L402.9 652.6 L406.8 650.1 L410.6 647.6 L414.4 645.0 L418.3 642.5 L422.1 640.0 L426.0 637.5 L429.8 634.9 L433.6 632.4 L437.5 629.9 L441.3 627.4 L445.1 624.9 L449.0 622.3 L452.8 619.8 L456.6 617.3 L460.5 614.8 L464.3 612.2 L468.1 609.7 L472.0 607.2 L475.8 604.7 L479.6 602.2 L483.5 599.6 L487.3 597.1 L491.1 594.6 L495.0 592.1 L498.8 589.5 L502.6 587.0 L506.5 584.5 L510.3 582.0 L514.1 579.5 L518.0 576.9 L521.8 574.4 L525.7 571.9 L529.5 569.4 L533.3 566.8 L537.2 564.3 L541.0 561.8 L544.8 559.3 L548.7 556.8 L552.5 554.2 L556.3 551.7 L560.2 549.2 L564.0 546.7 L567.8 544.1 L571.7 541.6 L575.5 539.1 L579.3 536.6 L583.2 534.1 L587.0 531.5 L590.8 529.0 L594.7 526.5 L598.5 524.0 L602.3 521.4 L606.2 518.9 L610.0 516.4 L613.9 513.9 L617.7 511.3 L621.5 508.8 L625.4 506.3 L629.2 503.8 L633.0 501.3 L636.9 498.7 L640.7 496.2 L644.5 493.7 L648.4 491.2 L652.2 488.6 L656.0 486.1 L659.9 483.6 L663.7 481.1 L667.5 478.6 L671.4 476.0 L675.2 473.5 L679.0 471.0 L682.9 468.5 L686.7 465.9 L690.5 463.4 L694.4 460.9 L698.2 458.4 L702.1 455.8 L705.9 453.3 L709.7 450.8 L713.6 448.3 L717.4 445.7 L721.2 443.2 L725.1 440.7 L728.9 438.2 L732.7 435.6 L736.6 433.1 L740.4 430.6 L744.2 428.1 L748.1 425.5 L751.9 423.0 L755.7 420.5 L759.6 418.0 L763.4 415.4 L767.2 412.9 L771.1 410.4 L774.9 407.9 L778.7 405.3 L782.6 402.8 L786.4 400.3 L790.3 397.8 L794.1 395.2 L797.9 392.7 L801.8 390.2 L805.6 387.7 L809.4 385.1 L813.3 382.6 L817.1 380.1 L820.9 377.5 L824.8 375.0 L828.6 372.5 L832.4 370.0 L836.3 367.4 L840.1 364.9 L843.9 362.4 L847.8 359.8 L851.6 357.3 L855.4 354.8 L859.3 352.2 L863.1 349.7 L866.9 347.2 L870.8 344.6 L874.6 342.1 L878.4 339.6 L882.3 337.0 L886.1 334.5 L890.0 332.0 L893.8 329.4 L897.6 326.9 L901.5 324.4 L905.3 321.8 L909.1 319.3 L913.0 316.7 L916.8 314.2 L920.6 311.6 L924.5 309.1 L928.3 306.6 L932.1 304.0 L936.0 301.5 L939.8 298.9 L943.6 296.4 L947.5 293.8 L951.3 291.3 L955.1 288.7 L959.0 286.1 L962.8 283.6 L966.6 281.0 L970.5 278.5 L974.3 275.9 L978.2 273.3 L982.0 270.8 L985.8 268.2 L989.7 265.6 L993.5 263.1 L997.3 260.5 L1001.2 257.9 L1005.0 255.3 L1008.8 252.8 L1012.7 250.2 L1016.5 247.6 L1020.3 245.0 L1024.2 242.4 L1028.0 239.8 L1031.8 237.2 L1035.7 234.6 L1039.5 232.0 L1043.3 229.4 L1047.2 226.8 L1051.0 224.2 L1054.8 221.5 L1058.7 218.9 L1062.5 216.3 L1066.4 213.6 L1070.2 211.0 L1074.0 208.4 L1077.9 205.7 L1081.7 203.0 L1085.5 200.4 L1089.4 197.7 L1093.2 195.0 L1097.0 192.4 L1100.9 189.7 L1104.7 187.0 L1108.5 184.3 L1112.4 181.6 L1116.2 178.9 L1120.0 176.1 L1123.9 173.4 L1127.7 170.7 L1131.5 167.9 L1135.4 165.2 L1139.2 162.4 L1143.0 159.7 L1146.9 156.9 L1150.7 154.1 L1154.6 151.4 L1158.4 148.6 L1162.2 145.8 L1166.1 143.0 L1169.9 140.2 L1173.7 137.4 L1177.6 134.7 L1181.4 131.9 L1185.2 129.1 L1189.1 126.3 L1192.9 123.6 L1196.7 120.8 L1200.6 118.1 L1204.4 115.4 L1208.2 112.8 L1212.1 110.2 L1215.9 107.6 L1219.7 105.0 L1223.6 102.6 L1227.4 100.2 L1231.2 97.9 L1235.1 95.6 L1238.9 93.5 L1242.7 91.4 L1246.6 89.5 L1250.4 87.7 L1254.3 86.1 L1258.1 84.5 L1261.9 83.2 L1265.8 81.9 L1269.6 80.8 L1273.4 79.9 L1277.3 79.1 L1281.1 78.4 L1284.9 77.9 L1288.8 77.5 L1292.6 77.3 L1296.4 77.1 L1300.3 77.1 L1304.1 77.1 L1307.9 77.2 L1311.8 77.5 L1315.6 77.7 L1319.4 78.1 L1323.3 78.5 L1327.1 79.0 L1330.9 79.5 L1334.8 80.0 L1338.6 80.6 L1342.5 81.2 L1346.3 81.9 L1350.1 82.6 L1354.0 83.3 L1357.8 84.0 L1361.6 84.8 L1365.5 85.6 L1369.3 86.4 L1373.1 87.2 L1377.0 88.0 L1380.8 88.9 L1384.6 89.8 L1388.5 90.7 L1392.3 91.7 L1396.1 92.7 L1400.0 93.7 L1403.8 94.7 L1407.6 95.8 L1411.5 96.9 L1415.3 98.0 L1419.1 99.1 L1423.0 100.3 L1426.8 101.6 L1430.7 102.8 L1434.5 104.1 L1438.3 105.4 L1442.2 106.8 L1446.0 108.2 L1449.8 109.6 L1453.7 111.1 L1457.5 112.6 L1461.3 114.2 L1465.2 115.8 L1469.0 117.4 L1472.8 119.1 L1476.7 120.8 L1480.5 122.5 L1484.3 124.2 L1488.2 126.0 L1492.0 127.9 L1495.8 129.7 L1499.7 131.6 L1503.5 133.6 L1507.3 135.5 L1511.2 137.5 L1515.0 139.5 L1518.9 141.5 L1522.7 143.6 L1526.5 145.7 L1530.4 147.8 L1534.2 149.9 L1538.0 152.0 L1541.9 154.2 L1545.7 156.4 L1549.5 158.6 L1553.4 160.8 L1557.2 163.1 L1561.0 165.3 L1564.9 167.6 L1568.7 169.9 L1572.5 172.2 L1576.4 174.5 L1580.2 176.8 L1584.0 179.1 L1587.9 181.5 L1591.7 183.8 L1595.5 186.2 L1599.4 188.5 L1603.2 190.9 L1607.0 193.3 L1610.9 195.7 L1614.7 198.1 L1618.6 200.5 L1622.4 202.9 L1626.2 205.3 L1630.1 207.7 L1633.9 210.2 L1637.7 212.6 L1641.6 215.0 L1645.4 217.5 L1649.2 219.9 L1653.1 222.4 L1656.9 224.8 L1660.7 227.3 L1664.6 229.8 L1668.4 232.2 L1672.2 234.7 L1676.1 237.2 L1679.9 239.6 L1683.7 242.1 L1687.6 244.6 L1691.4 247.1 L1695.2 249.5 L1699.1 252.0 L1702.9 254.5 L1706.8 257.0 L1710.6 259.5 L1714.4 262.0 L1718.3 264.5 L1722.1 267.0 L1725.9 269.5 L1729.8 272.0 L1733.6 274.5 L1737.4 277.0 L1741.3 279.5 L1745.1 282.0 L1748.9 284.5 L1752.8 287.0 L1756.6 289.5 L1760.4 292.0 L1764.3 294.5 L1768.1 297.0 L1771.9 299.5 L1775.8 302.0 L1779.6 304.5 L1783.4 307.0 L1787.3 309.5 L1791.1 312.0 L1795.0 314.6 L1798.8 317.1 L1802.6 319.6 L1806.5 322.1 L1810.3 324.6 L1814.1 327.1 L1818.0 329.6 L1821.8 332.1 L1825.6 334.7 L1829.5 337.2 L1833.3 339.7 L1837.1 342.2 L1841.0 344.7 L1844.8 347.2 L1848.6 349.8 L1852.5 352.3 L1856.3 354.8 L1860.1 357.3 L1864.0 359.8 L1867.8 362.3 L1871.6 364.9 L1875.5 367.4 L1879.3 369.9 L1883.2 372.4 L1887.0 374.9 L1890.8 377.4 L1894.7 380.0 L1898.5 382.5 L1902.3 385.0 L1906.2 387.5 L1910.0 390.0 L1913.8 392.6 L1917.7 395.1 L1921.5 397.6 L1925.3 400.1 L1929.2 402.6 L1933.0 405.2 L1936.8 407.7 L1940.7 410.2 L1944.5 412.7 L1948.3 415.2 L1952.2 417.8 L1956.0 420.3 L1959.8 422.8 L1963.7 425.3 L1967.5 427.8 L1971.3 430.4 L1975.2 432.9 L1979.0 435.4 L1982.9 437.9 L1986.7 440.4 L1990.5 443.0 L1994.4 445.5 L1998.2 448.0 L2002.0 450.5 L2005.9 453.1 L2009.7 455.6 L2013.5 458.1 L2017.4 460.6 L2021.2 463.1 L2025.0 465.7 L2028.9 468.2 L2032.7 470.7 L2036.5 473.2 L2040.4 475.7 L2044.2 478.3 L2048.0 480.8 L2051.9 483.3 L2055.7 485.8 L2059.5 488.4 L2063.4 490.9 L2067.2 493.4 L2071.1 495.9 L2074.9 498.4 L2078.7 501.0 L2082.6 503.5 L2086.4 506.0 L2090.2 508.5 L2094.1 511.1 L2097.9 513.6 L2101.7 516.1 L2105.6 518.6 L2109.4 521.1 L2113.2 523.7 L2117.1 526.2 L2120.9 528.7 L2124.7 531.2 L2128.6 533.7 L2132.4 536.3 L2136.2 538.8 L2140.1 541.3 L2143.9 543.8 L2147.7 546.4 L2151.6 548.9 L2153.5 550.1"/>
<path stroke="#0072BD" d="M238.0 1167.9 L241.9 1167.9 L245.7 1167.9 L249.6 1167.9 L253.4 1167.9 L257.2 1167.9 L261.1 1167.9 L264.9 1167.9 L268.7 1167.9 L272.6 1167.9 L276.4 1167.9 L280.2 1167.9 L284.1 1167.9 L287.9 1167.9 L291.7 1167.9 L295.6 1167.9 L299.4 1167.9 L303.2 1167.9 L307.1 1167.9 L310.9 1167.9 L314.7 1167.9 L318.6 1167.9 L322.4 1168.0 L326.2 1168.0 L330.1 1168.0 L333.9 1168.0 L337.8 1168.0 L341.6 1168.0 L345.4 1168.0 L349.3 1168.0 L353.1 1168.0 L356.9 1168.0 L360.8 1168.0 L364.6 1168.0 L368.4 1168.0 L372.3 1168.0 L376.1 1168.0 L379.9 1168.0 L383.8 1168.0 L387.6 1168.0 L391.4 1168.0 L395.3 1168.0 L399.1 1168.0 L402.9 1168.0 L406.8 1168.1 L410.6 1168.1 L414.4 1168.1 L418.3 1168.1 L422.1 1168.1 L426.0 1168.1 L429.8 1168.1 L433.6 1168.1 L437.5 1168.1 L441.3 1168.1 L445.1 1168.1 L449.0 1168.1 L452.8 1168.1 L456.6 1168.1 L460.5 1168.1 L464.3 1168.2 L468.1 1168.2 L472.0 1168.2 L475.8 1168.2 L479.6 1168.2 L483.5 1168.2 L487.3 1168.2 L491.1 1168.2 L495.0 1168.2 L498.8 1168.2 L502.6 1168.2 L506.5 1168.3 L510.3 1168.3 L514.1 1168.3 L518.0 1168.3 L521.8 1168.3 L525.7 1168.3 L529.5 1168.3 L533.3 1168.3 L537.2 1168.4 L541.0 1168.4 L544.8 1168.4 L548.7 1168.4 L552.5 1168.4 L556.3 1168.4 L560.2 1168.4 L564.0 1168.4 L567.8 1168.5 L571.7 1168.5 L575.5 1168.5 L579.3 1168.5 L583.2 1168.5 L587.0 1168.5 L590.8 1168.6 L594.7 1168.6 L598.5 1168.6 L602.3 1168.6 L606.2 1168.6 L610.0 1168.7 L613.9 1168.7 L617.7 1168.7 L621.5 1168.7 L625.4 1168.7 L629.2 1168.8 L633.0 1168.8 L636.9 1168.8 L640.7 1168.8 L644.5 1168.9 L648.4 1168.9 L652.2 1168.9 L656.0 1168.9 L659.9 1169.0 L663.7 1169.0 L667.5 1169.0 L671.4 1169.0 L675.2 1169.1 L679.0 1169.1 L682.9 1169.1 L686.7 1169.2 L690.5 1169.2 L694.4 1169.2 L698.2 1169.3 L702.1 1169.3 L705.9 1169.3 L709.7 1169.4 L713.6 1169.4 L717.4 1169.4 L721.2 1169.5 L725.1 1169.5 L728.9 1169.5 L732.7 1169.6 L736.6 1169.6 L740.4 1169.7 L744.2 1169.7 L748.1 1169.8 L751.9 1169.8 L755.7 1169.9 L759.6 1169.9 L763.4 1169.9 L767.2 1170.0 L771.1 1170.0 L774.9 1170.1 L778.7 1170.2 L782.6 1170.2 L786.4 1170.3 L790.3 1170.3 L794.1 1170.4 L797.9 1170.4 L801.8 1170.5 L805.6 1170.6 L809.4 1170.6 L813.3 1170.7 L817.1 1170.8 L820.9 1170.8 L824.8 1170.9 L828.6 1171.0 L832.4 1171.1 L836.3 1171.1 L840.1 1171.2 L843.9 1171.3 L847.8 1171.4 L851.6 1171.5 L855.4 1171.5 L859.3 1171.6 L863.1 1171.7 L866.9 1171.8 L870.8 1171.9 L874.6 1172.0 L878.4 1172.1 L882.3 1172.2 L886.1 1172.3 L890.0 1172.4 L893.8 1172.5 L897.6 1172.6 L901.5 1172.7 L905.3 1172.8 L909.1 1173.0 L913.0 1173.1 L916.8 1173.2 L920.6 1173.3 L924.5 1173.5 L928.3 1173.6 L932.1 1173.7 L936.0 1173.9 L939.8 1174.0 L943.6 1174.1 L947.5 1174.3 L951.3 1174.4 L955.1 1174.6 L959.0 1174.8 L962.8 1174.9 L966.6 1175.1 L970.5 1175.3 L974.3 1175.4 L978.2 1175.6 L982.0 1175.8 L985.8 1176.0 L989.7 1176.2 L993.5 1176.4 L997.3 1176.6 L1001.2 1176.8 L1005.0 1177.0 L1008.8 1177.2 L1012.7 1177.4 L1016.5 1177.6 L1020.3 1177.9 L1024.2 1178.1 L1028.0 1178.3 L1031.8 1178.6 L1035.7 1178.8 L1039.5 1179.1 L1043.3 1179.4 L1047.2 1179.6 L1051.0 1179.9 L1054.8 1180.2 L1058.7 1180.5 L1062.5 1180.8 L1066.4 1181.1 L1070.2 1181.4 L1074.0 1181.7 L1077.9 1182.0 L1081.7 1182.4 L1085.5 1182.7 L1089.4 1183.1 L1093.2 1183.4 L1097.0 1183.8 L1100.9 1184.2 L1104.7 1184.6 L1108.5 1184.9 L1112.4 1185.3 L1116.2 1185.8 L1120.0 1186.2 L1123.9 1186.6 L1127.7 1187.1 L1131.5 1187.5 L1135.4 1188.0 L1139.2 1188.4 L1143.0 1188.9 L1146.9 1189.4 L1150.7 1189.9 L1154.6 1190.5 L1158.4 1191.0 L1162.2 1191.5 L1166.1 1192.1 L1169.9 1192.7 L1173.7 1193.2 L1177.6 1193.9 L1181.4 1194.5 L1185.2 1195.1 L1189.1 1195.7 L1192.9 1196.4 L1196.7 1197.1 L1200.6 1197.8 L1204.4 1198.5 L1208.2 1199.2 L1212.1 1200.0 L1215.9 1200.7 L1219.7 1201.5 L1223.6 1202.3 L1227.4 1203.1 L1231.2 1204.0 L1235.1 1204.8 L1238.9 1205.7 L1242.7 1206.6 L1246.6 1207.6 L1250.4 1208.5 L1254.3 1209.5 L1258.1 1210.5 L1261.9 1211.5 L1265.8 1212.6 L1269.6 1213.6 L1273.4 1214.7 L1277.3 1215.9 L1281.1 1217.0 L1284.9 1218.2 L1288.8 1219.5 L1292.6 1220.7 L1296.4 1222.0 L1300.3 1223.3 L1304.1 1224.7 L1307.9 1226.1 L1311.8 1227.5 L1315.6 1228.9 L1319.4 1230.4 L1323.3 1232.0 L1327.1 1233.6 L1330.9 1235.2 L1334.8 1236.8 L1338.6 1238.5 L1342.5 1240.3 L1346.3 1242.1 L1350.1 1243.9 L1354.0 1245.8 L1357.8 1247.7 L1361.6 1249.7 L1365.5 1251.7 L1369.3 1253.8 L1373.1 1255.9 L1377.0 1258.1 L1380.8 1260.3 L1384.6 1262.6 L1388.5 1264.9 L1392.3 1267.3 L1396.1 1269.8 L1400.0 1272.3 L1403.8 1274.8 L1407.6 1277.4 L1411.5 1280.1 L1415.3 1282.8 L1419.1 1285.5 L1423.0 1288.3 L1426.8 1291.2 L1430.7 1294.1 L1434.5 1297.0 L1438.3 1300.0 L1442.2 1303.0 L1446.0 1306.1 L1449.8 1309.2 L1453.7 1312.3 L1457.5 1315.5 L1461.3 1318.6 L1465.2 1321.8 L1469.0 1325.0 L1472.8 1328.2 L1476.7 1331.4 L1480.5 1334.6 L1484.3 1337.9 L1488.2 1341.1 L1492.0 1344.2 L1495.8 1347.4 L1499.7 1350.6 L1503.5 1353.7 L1507.3 1356.8 L1511.2 1359.9 L1515.0 1362.9 L1518.9 1365.9 L1522.7 1368.9 L1526.5 1371.8 L1530.4 1374.7 L1534.2 1377.5 L1538.0 1380.3 L1541.9 1383.0 L1545.7 1385.7 L1549.5 1388.3 L1553.4 1390.9 L1557.2 1393.4 L1561.0 1395.9 L1564.9 1398.3 L1568.7 1400.7 L1572.5 1403.0 L1576.4 1405.2 L1580.2 1407.4 L1584.0 1409.6 L1587.9 1411.7 L1591.7 1413.7 L1595.5 1415.7 L1599.4 1417.7 L1603.2 1419.6 L1607.0 1421.5 L1610.9 1423.3 L1614.7 1425.0 L1618.6 1426.8 L1622.4 1428.4 L1626.2 1430.1 L1630.1 1431.7 L1633.9 1433.2 L1637.7 1434.7 L1641.6 1436.2 L1645.4 1437.7 L1649.2 1439.1 L1653.1 1440.4 L1656.9 1441.8 L1660.7 1443.1 L1664.6 1444.3 L1668.4 1445.6 L1672.2 1446.8 L1676.1 1448.0 L1679.9 1449.1 L1683.7 1450.2 L1687.6 1451.3 L1691.4 1452.4 L1695.2 1453.4 L1699.1 1454.4 L1702.9 1455.4 L1706.8 1456.4 L1710.6 1457.3 L1714.4 1458.2 L1718.3 1459.1 L1722.1 1460.0 L1725.9 1460.9 L1729.8 1461.7 L1733.6 1462.5 L1737.4 1463.3 L1741.3 1464.1 L1745.1 1464.8 L1748.9 1465.6 L1752.8 1466.3 L1756.6 1467.0 L1760.4 1467.7 L1764.3 1468.3 L1768.1 1469.0 L1771.9 1469.6 L1775.8 1470.3 L1779.6 1470.9 L1783.4 1471.5 L1787.3 1472.0 L1791.1 1472.6 L1795.0 1473.2 L1798.8 1473.7 L1802.6 1474.2 L1806.5 1474.7 L1810.3 1475.2 L1814.1 1475.7 L1818.0 1476.2 L1821.8 1476.7 L1825.6 1477.1 L1829.5 1477.6 L1833.3 1478.0 L1837.1 1478.4 L1841.0 1478.9 L1844.8 1479.3 L1848.6 1479.7 L1852.5 1480.1 L1856.3 1480.4 L1860.1 1480.8 L1864.0 1481.2 L1867.8 1481.5 L1871.6 1481.9 L1875.5 1482.2 L1879.3 1482.5 L1883.2 1482.9 L1887.0 1483.2 L1890.8 1483.5 L1894.7 1483.8 L1898.5 1484.1 L1902.3 1484.4 L1906.2 1484.6 L1910.0 1484.9 L1913.8 1485.2 L1917.7 1485.4 L1921.5 1485.7 L1925.3 1485.9 L1929.2 1486.2 L1933.0 1486.4 L1936.8 1486.7 L1940.7 1486.9 L1944.5 1487.1 L1948.3 1487.3 L1952.2 1487.5 L1956.0 1487.7 L1959.8 1487.9 L1963.7 1488.1 L1967.5 1488.3 L1971.3 1488.5 L1975.2 1488.7 L1979.0 1488.9 L1982.9 1489.1 L1986.7 1489.2 L1990.5 1489.4 L1994.4 1489.6 L1998.2 1489.7 L2002.0 1489.9 L2005.9 1490.0 L2009.7 1490.2 L2013.5 1490.3 L2017.4 1490.5 L2021.2 1490.6 L2025.0 1490.8 L2028.9 1490.9 L2032.7 1491.0 L2036.5 1491.1 L2040.4 1491.3 L2044.2 1491.4 L2048.0 1491.5 L2051.9 1491.6 L2055.7 1491.7 L2059.5 1491.8 L2063.4 1492.0 L2067.2 1492.1 L2071.1 1492.2 L2074.9 1492.3 L2078.7 1492.4 L2082.6 1492.5 L2086.4 1492.6 L2090.2 1492.6 L2094.1 1492.7 L2097.9 1492.8 L2101.7 1492.9 L2105.6 1493.0 L2109.4 1493.1 L2113.2 1493.2 L2117.1 1493.2 L2120.9 1493.3 L2124.7 1493.4 L2128.6 1493.5 L2132.4 1493.5 L2136.2 1493.6 L2140.1 1493.7 L2143.9 1493.7 L2147.7 1493.8 L2151.6 1493.9 L2153.5 1493.9"/>
<path stroke="#D95319" d="M238.0 1004.3 L241.9 1004.3 L245.7 1004.3 L249.6 1004.3 L253.4 1004.4 L257.2 1004.4 L261.1 1004.4 L264.9 1004.4 L268.7 1004.5 L272.6 1004.5 L276.4 1004.5 L280.2 1004.5 L284.1 1004.6 L287.9 1004.6 L291.7 1004.6 L295.6 1004.6 L299.4 1004.7 L303.2 1004.7 L307.1 1004.7 L310.9 1004.8 L314.7 1004.8 L318.6 1004.8 L322.4 1004.9 L326.2 1004.9 L330.1 1004.9 L333.9 1005.0 L337.8 1005.0 L341.6 1005.0 L345.4 1005.1 L349.3 1005.1 L353.1 1005.2 L356.9 1005.2 L360.8 1005.3 L364.6 1005.3 L368.4 1005.3 L372.3 1005.4 L376.1 1005.4 L379.9 1005.5 L383.8 1005.5 L387.6 1005.6 L391.4 1005.6 L395.3 1005.7 L399.1 1005.7 L402.9 1005.8 L406.8 1005.8 L410.6 1005.9 L414.4 1006.0 L418.3 1006.0 L422.1 1006.1 L426.0 1006.1 L429.8 1006.2 L433.6 1006.3 L437.5 1006.3 L441.3 1006.4 L445.1 1006.5 L449.0 1006.6 L452.8 1006.6 L456.6 1006.7 L460.5 1006.8 L464.3 1006.9 L468.1 1006.9 L472.0 1007.0 L475.8 1007.1 L479.6 1007.2 L483.5 1007.3 L487.3 1007.4 L491.1 1007.5 L495.0 1007.6 L498.8 1007.7 L502.6 1007.8 L506.5 1007.9 L510.3 1008.0 L514.1 1008.1 L518.0 1008.2 L521.8 1008.3 L525.7 1008.4 L529.5 1008.5 L533.3 1008.6 L537.2 1008.8 L541.0 1008.9 L544.8 1009.0 L548.7 1009.2 L552.5 1009.3 L556.3 1009.4 L560.2 1009.6 L564.0 1009.7 L567.8 1009.9 L571.7 1010.0 L575.5 1010.2 L579.3 1010.3 L583.2 1010.5 L587.0 1010.6 L590.8 1010.8 L594.7 1011.0 L598.5 1011.2 L602.3 1011.3 L606.2 1011.5 L610.0 1011.7 L613.9 1011.9 L617.7 1012.1 L621.5 1012.3 L625.4 1012.5 L629.2 1012.7 L633.0 1012.9 L636.9 1013.2 L640.7 1013.4 L644.5 1013.6 L648.4 1013.9 L652.2 1014.1 L656.0 1014.4 L659.9 1014.6 L663.7 1014.9 L667.5 1015.1 L671.4 1015.4 L675.2 1015.7 L679.0 1016.0 L682.9 1016.3 L686.7 1016.6 L690.5 1016.9 L694.4 1017.2 L698.2 1017.5 L702.1 1017.8 L705.9 1018.2 L709.7 1018.5 L713.6 1018.8 L717.4 1019.2 L721.2 1019.6 L725.1 1019.9 L728.9 1020.3 L732.7 1020.7 L736.6 1021.1 L740.4 1021.5 L744.2 1021.9 L748.1 1022.4 L751.9 1022.8 L755.7 1023.2 L759.6 1023.7 L763.4 1024.1 L767.2 1024.6 L771.1 1025.1 L774.9 1025.6 L778.7 1026.1 L782.6 1026.6 L786.4 1027.2 L790.3 1027.7 L794.1 1028.2 L797.9 1028.8 L801.8 1029.4 L805.6 1030.0 L809.4 1030.6 L813.3 1031.2 L817.1 1031.8 L820.9 1032.5 L824.8 1033.1 L828.6 1033.8 L832.4 1034.4 L836.3 1035.1 L840.1 1035.8 L843.9 1036.6 L847.8 1037.3 L851.6 1038.1 L855.4 1038.8 L859.3 1039.6 L863.1 1040.4 L866.9 1041.2 L870.8 1042.0 L874.6 1042.9 L878.4 1043.7 L882.3 1044.6 L886.1 1045.5 L890.0 1046.4 L893.8 1047.3 L897.6 1048.3 L901.5 1049.2 L905.3 1050.2 L909.1 1051.2 L913.0 1052.2 L916.8 1053.2 L920.6 1054.2 L924.5 1055.3 L928.3 1056.4 L932.1 1057.5 L936.0 1058.6 L939.8 1059.7 L943.6 1060.8 L947.5 1062.0 L951.3 1063.1 L955.1 1064.3 L959.0 1065.5 L962.8 1066.7 L966.6 1068.0 L970.5 1069.2 L974.3 1070.5 L978.2 1071.8 L982.0 1073.1 L985.8 1074.4 L989.7 1075.7 L993.5 1077.0 L997.3 1078.4 L1001.2 1079.7 L1005.0 1081.1 L1008.8 1082.5 L1012.7 1083.9 L1016.5 1085.3 L1020.3 1086.7 L1024.2 1088.1 L1028.0 1089.6 L1031.8 1091.0 L1035.7 1092.5 L1039.5 1093.9 L1043.3 1095.4 L1047.2 1096.9 L1051.0 1098.4 L1054.8 1099.9 L1058.7 1101.4 L1062.5 1102.9 L1066.4 1104.4 L1070.2 1105.9 L1074.0 1107.4 L1077.9 1108.9 L1081.7 1110.4 L1085.5 1112.0 L1089.4 1113.5 L1093.2 1115.0 L1097.0 1116.5 L1100.9 1118.1 L1104.7 1119.6 L1108.5 1121.1 L1112.4 1122.7 L1116.2 1124.2 L1120.0 1125.7 L1123.9 1127.3 L1127.7 1128.8 L1131.5 1130.3 L1135.4 1131.9 L1139.2 1133.4 L1143.0 1134.9 L1146.9 1136.5 L1150.7 1138.0 L1154.6 1139.5 L1158.4 1141.1 L1162.2 1142.6 L1166.1 1144.1 L1169.9 1145.7 L1173.7 1147.2 L1177.6 1148.7 L1181.4 1150.3 L1185.2 1151.8 L1189.1 1153.3 L1192.9 1154.9 L1196.7 1156.4 L1200.6 1158.0 L1204.4 1159.5 L1208.2 1161.1 L1212.1 1162.6 L1215.9 1164.2 L1219.7 1165.7 L1223.6 1167.3 L1227.4 1168.9 L1231.2 1170.5 L1235.1 1172.1 L1238.9 1173.7 L1242.7 1175.3 L1246.6 1176.9 L1250.4 1178.5 L1254.3 1180.2 L1258.1 1181.8 L1261.9 1183.5 L1265.8 1185.2 L1269.6 1186.9 L1273.4 1188.6 L1277.3 1190.4 L1281.1 1192.1 L1284.9 1193.9 L1288.8 1195.7 L1292.6 1197.5 L1296.4 1199.3 L1300.3 1201.2 L1304.1 1203.1 L1307.9 1205.0 L1311.8 1206.9 L1315.6 1208.9 L1319.4 1210.9 L1323.3 1212.9 L1327.1 1214.9 L1330.9 1217.0 L1334.8 1219.1 L1338.6 1221.3 L1342.5 1223.5 L1346.3 1225.7 L1350.1 1228.0 L1354.0 1230.3 L1357.8 1232.7 L1361.6 1235.1 L1365.5 1237.5 L1369.3 1240.0 L1373.1 1242.5 L1377.0 1245.1 L1380.8 1247.7 L1384.6 1250.4 L1388.5 1253.1 L1392.3 1255.9 L1396.1 1258.7 L1400.0 1261.6 L1403.8 1264.5 L1407.6 1267.4 L1411.5 1270.5 L1415.3 1273.5 L1419.1 1276.6 L1423.0 1279.8 L1426.8 1283.0 L1430.7 1286.2 L1434.5 1289.5 L1438.3 1292.8 L1442.2 1296.1 L1446.0 1299.5 L1449.8 1302.9 L1453.7 1306.3 L1457.5 1309.7 L1461.3 1313.1 L1465.2 1316.6 L1469.0 1320.1 L1472.8 1323.5 L1476.7 1327.0 L1480.5 1330.4 L1484.3 1333.9 L1488.2 1337.3 L1492.0 1340.7 L1495.8 1344.1 L1499.7 1347.4 L1503.5 1350.7 L1507.3 1354.0 L1511.2 1357.2 L1515.0 1360.4 L1518.9 1363.6 L1522.7 1366.7 L1526.5 1369.7 L1530.4 1372.7 L1534.2 1375.6 L1538.0 1378.5 L1541.9 1381.3 L1545.7 1384.1 L1549.5 1386.8 L1553.4 1389.5 L1557.2 1392.1 L1561.0 1394.6 L1564.9 1397.1 L1568.7 1399.5 L1572.5 1401.9 L1576.4 1404.2 L1580.2 1406.4 L1584.0 1408.6 L1587.9 1410.8 L1591.7 1412.9 L1595.5 1414.9 L1599.4 1416.9 L1603.2 1418.8 L1607.0 1420.7 L1610.9 1422.5 L1614.7 1424.3 L1618.6 1426.1 L1622.4 1427.8 L1626.2 1429.4 L1630.1 1431.1 L1633.9 1432.6 L1637.7 1434.2 L1641.6 1435.7 L1645.4 1437.1 L1649.2 1438.5 L1653.1 1439.9 L1656.9 1441.3 L1660.7 1442.6 L1664.6 1443.9 L1668.4 1445.1 L1672.2 1446.3 L1676.1 1447.5 L1679.9 1448.7 L1683.7 1449.8 L1687.6 1450.9 L1691.4 1452.0 L1695.2 1453.1 L1699.1 1454.1 L1702.9 1455.1 L1706.8 1456.0 L1710.6 1457.0 L1714.4 1457.9 L1718.3 1458.8 L1722.1 1459.7 L1725.9 1460.6 L1729.8 1461.4 L1733.6 1462.2 L1737.4 1463.0 L1741.3 1463.8 L1745.1 1464.6 L1748.9 1465.3 L1752.8 1466.0 L1756.6 1466.7 L1760.4 1467.4 L1764.3 1468.1 L1768.1 1468.8 L1771.9 1469.4 L1775.8 1470.0 L1779.6 1470.6 L1783.4 1471.2 L1787.3 1471.8 L1791.1 1472.4 L1795.0 1473.0 L1798.8 1473.5 L1802.6 1474.0 L1806.5 1474.5 L1810.3 1475.1 L1814.1 1475.5 L1818.0 1476.0 L1821.8 1476.5 L1825.6 1477.0 L1829.5 1477.4 L1833.3 1477.9 L1837.1 1478.3 L1841.0 1478.7 L1844.8 1479.1 L1848.6 1479.5 L1852.5 1479.9 L1856.3 1480.3 L1860.1 1480.7 L1864.0 1481.0 L1867.8 1481.4 L1871.6 1481.7 L1875.5 1482.1 L1879.3 1482.4 L1883.2 1482.7 L1887.0 1483.0 L1890.8 1483.4 L1894.7 1483.7 L1898.5 1484.0 L1902.3 1484.2 L1906.2 1484.5 L1910.0 1484.8 L1913.8 1485.1 L1917.7 1485.3 L1921.5 1485.6 L1925.3 1485.8 L1929.2 1486.1 L1933.0 1486.3 L1936.8 1486.6 L1940.7 1486.8 L1944.5 1487.0 L1948.3 1487.2 L1952.2 1487.4 L1956.0 1487.7 L1959.8 1487.9 L1963.7 1488.1 L1967.5 1488.3 L1971.3 1488.4 L1975.2 1488.6 L1979.0 1488.8 L1982.9 1489.0 L1986.7 1489.2 L1990.5 1489.3 L1994.4 1489.5 L1998.2 1489.7 L2002.0 1489.8 L2005.9 1490.0 L2009.7 1490.1 L2013.5 1490.3 L2017.4 1490.4 L2021.2 1490.6 L2025.0 1490.7 L2028.9 1490.8 L2032.7 1491.0 L2036.5 1491.1 L2040.4 1491.2 L2044.2 1491.3 L2048.0 1491.5 L2051.9 1491.6 L2055.7 1491.7 L2059.5 1491.8 L2063.4 1491.9 L2067.2 1492.0 L2071.1 1492.1 L2074.9 1492.2 L2078.7 1492.3 L2082.6 1492.4 L2086.4 1492.5 L2090.2 1492.6 L2094.1 1492.7 L2097.9 1492.8 L2101.7 1492.9 L2105.6 1493.0 L2109.4 1493.0 L2113.2 1493.1 L2117.1 1493.2 L2120.9 1493.3 L2124.7 1493.4 L2128.6 1493.4 L2132.4 1493.5 L2136.2 1493.6 L2140.1 1493.6 L2143.9 1493.7 L2147.7 1493.8 L2151.6 1493.8 L2153.5 1493.9"/>
<path stroke="#EDB120" d="M238.0 1003.6 L241.9 1003.6 L245.7 1003.7 L249.6 1003.7 L253.4 1003.7 L257.2 1003.7 L261.1 1003.7 L264.9 1003.7 L268.7 1003.7 L272.6 1003.7 L276.4 1003.7 L280.2 1003.7 L284.1 1003.7 L287.9 1003.7 L291.7 1003.7 L295.6 1003.7 L299.4 1003.8 L303.2 1003.8 L307.1 1003.8 L310.9 1003.8 L314.7 1003.8 L318.6 1003.8 L322.4 1003.8 L326.2 1003.8 L330.1 1003.8 L333.9 1003.8 L337.8 1003.8 L341.6 1003.9 L345.4 1003.9 L349.3 1003.9 L353.1 1003.9 L356.9 1003.9 L360.8 1003.9 L364.6 1003.9 L368.4 1003.9 L372.3 1004.0 L376.1 1004.0 L379.9 1004.0 L383.8 1004.0 L387.6 1004.0 L391.4 1004.0 L395.3 1004.0 L399.1 1004.1 L402.9 1004.1 L406.8 1004.1 L410.6 1004.1 L414.4 1004.1 L418.3 1004.1 L422.1 1004.1 L426.0 1004.2 L429.8 1004.2 L433.6 1004.2 L437.5 1004.2 L441.3 1004.2 L445.1 1004.3 L449.0 1004.3 L452.8 1004.3 L456.6 1004.3 L460.5 1004.3 L464.3 1004.4 L468.1 1004.4 L472.0 1004.4 L475.8 1004.4 L479.6 1004.5 L483.5 1004.5 L487.3 1004.5 L491.1 1004.5 L495.0 1004.6 L498.8 1004.6 L502.6 1004.6 L506.5 1004.6 L510.3 1004.7 L514.1 1004.7 L518.0 1004.7 L521.8 1004.8 L525.7 1004.8 L529.5 1004.8 L533.3 1004.9 L537.2 1004.9 L541.0 1004.9 L544.8 1005.0 L548.7 1005.0 L552.5 1005.0 L556.3 1005.1 L560.2 1005.1 L564.0 1005.2 L567.8 1005.2 L571.7 1005.2 L575.5 1005.3 L579.3 1005.3 L583.2 1005.4 L587.0 1005.4 L590.8 1005.5 L594.7 1005.5 L598.5 1005.6 L602.3 1005.6 L606.2 1005.7 L610.0 1005.7 L613.9 1005.8 L617.7 1005.8 L621.5 1005.9 L625.4 1006.0 L629.2 1006.0 L633.0 1006.1 L636.9 1006.1 L640.7 1006.2 L644.5 1006.3 L648.4 1006.3 L652.2 1006.4 L656.0 1006.5 L659.9 1006.5 L663.7 1006.6 L667.5 1006.7 L671.4 1006.8 L675.2 1006.8 L679.0 1006.9 L682.9 1007.0 L686.7 1007.1 L690.5 1007.2 L694.4 1007.3 L698.2 1007.4 L702.1 1007.4 L705.9 1007.5 L709.7 1007.6 L713.6 1007.7 L717.4 1007.8 L721.2 1007.9 L725.1 1008.0 L728.9 1008.2 L732.7 1008.3 L736.6 1008.4 L740.4 1008.5 L744.2 1008.6 L748.1 1008.7 L751.9 1008.9 L755.7 1009.0 L759.6 1009.1 L763.4 1009.3 L767.2 1009.4 L771.1 1009.5 L774.9 1009.7 L778.7 1009.8 L782.6 1010.0 L786.4 1010.1 L790.3 1010.3 L794.1 1010.4 L797.9 1010.6 L801.8 1010.8 L805.6 1010.9 L809.4 1011.1 L813.3 1011.3 L817.1 1011.5 L820.9 1011.7 L824.8 1011.9 L828.6 1012.1 L832.4 1012.3 L836.3 1012.5 L840.1 1012.7 L843.9 1012.9 L847.8 1013.1 L851.6 1013.4 L855.4 1013.6 L859.3 1013.8 L863.1 1014.1 L866.9 1014.3 L870.8 1014.6 L874.6 1014.8 L878.4 1015.1 L882.3 1015.4 L886.1 1015.6 L890.0 1015.9 L893.8 1016.2 L897.6 1016.5 L901.5 1016.8 L905.3 1017.1 L909.1 1017.5 L913.0 1017.8 L916.8 1018.1 L920.6 1018.5 L924.5 1018.8 L928.3 1019.2 L932.1 1019.5 L936.0 1019.9 L939.8 1020.3 L943.6 1020.7 L947.5 1021.1 L951.3 1021.5 L955.1 1021.9 L959.0 1022.4 L962.8 1022.8 L966.6 1023.3 L970.5 1023.7 L974.3 1024.2 L978.2 1024.7 L982.0 1025.2 L985.8 1025.7 L989.7 1026.2 L993.5 1026.7 L997.3 1027.3 L1001.2 1027.9 L1005.0 1028.4 L1008.8 1029.0 L1012.7 1029.6 L1016.5 1030.2 L1020.3 1030.8 L1024.2 1031.5 L1028.0 1032.1 L1031.8 1032.8 L1035.7 1033.5 L1039.5 1034.2 L1043.3 1034.9 L1047.2 1035.6 L1051.0 1036.4 L1054.8 1037.2 L1058.7 1037.9 L1062.5 1038.8 L1066.4 1039.6 L1070.2 1040.4 L1074.0 1041.3 L1077.9 1042.2 L1081.7 1043.1 L1085.5 1044.0 L1089.4 1044.9 L1093.2 1045.9 L1097.0 1046.9 L1100.9 1047.9 L1104.7 1048.9 L1108.5 1050.0 L1112.4 1051.1 L1116.2 1052.2 L1120.0 1053.3 L1123.9 1054.5 L1127.7 1055.7 L1131.5 1056.9 L1135.4 1058.2 L1139.2 1059.4 L1143.0 1060.7 L1146.9 1062.1 L1150.7 1063.4 L1154.6 1064.8 L1158.4 1066.3 L1162.2 1067.7 L1166.1 1069.2 L1169.9 1070.8 L1173.7 1072.3 L1177.6 1073.9 L1181.4 1075.6 L1185.2 1077.3 L1189.1 1079.0 L1192.9 1080.7 L1196.7 1082.5 L1200.6 1084.4 L1204.4 1086.2 L1208.2 1088.2 L1212.1 1090.1 L1215.9 1092.1 L1219.7 1094.2 L1223.6 1096.3 L1227.4 1098.4 L1231.2 1100.6 L1235.1 1102.9 L1238.9 1105.2 L1242.7 1107.5 L1246.6 1109.9 L1250.4 1112.4 L1254.3 1114.9 L1258.1 1117.5 L1261.9 1120.1 L1265.8 1122.8 L1269.6 1125.5 L1273.4 1128.3 L1277.3 1131.1 L1281.1 1134.0 L1284.9 1137.0 L1288.8 1140.0 L1292.6 1143.1 L1296.4 1146.3 L1300.3 1149.5 L1304.1 1152.7 L1307.9 1156.1 L1311.8 1159.4 L1315.6 1162.9 L1319.4 1166.4 L1323.3 1170.0 L1327.1 1173.6 L1330.9 1177.3 L1334.8 1181.0 L1338.6 1184.8 L1342.5 1188.7 L1346.3 1192.6 L1350.1 1196.5 L1354.0 1200.5 L1357.8 1204.5 L1361.6 1208.6 L1365.5 1212.7 L1369.3 1216.9 L1373.1 1221.0 L1377.0 1225.2 L1380.8 1229.5 L1384.6 1233.7 L1388.5 1238.0 L1392.3 1242.2 L1396.1 1246.5 L1400.0 1250.8 L1403.8 1255.1 L1407.6 1259.4 L1411.5 1263.6 L1415.3 1267.9 L1419.1 1272.1 L1423.0 1276.3 L1426.8 1280.5 L1430.7 1284.6 L1434.5 1288.8 L1438.3 1292.8 L1442.2 1296.9 L1446.0 1300.9 L1449.8 1304.8 L1453.7 1308.7 L1457.5 1312.6 L1461.3 1316.4 L1465.2 1320.1 L1469.0 1323.8 L1472.8 1327.5 L1476.7 1331.1 L1480.5 1334.6 L1484.3 1338.0 L1488.2 1341.5 L1492.0 1344.8 L1495.8 1348.1 L1499.7 1351.3 L1503.5 1354.5 L1507.3 1357.6 L1511.2 1360.6 L1515.0 1363.6 L1518.9 1366.6 L1522.7 1369.4 L1526.5 1372.2 L1530.4 1375.0 L1534.2 1377.7 L1538.0 1380.3 L1541.9 1382.9 L1545.7 1385.5 L1549.5 1388.0 L1553.4 1390.4 L1557.2 1392.8 L1561.0 1395.1 L1564.9 1397.4 L1568.7 1399.6 L1572.5 1401.8 L1576.4 1403.9 L1580.2 1406.0 L1584.0 1408.0 L1587.9 1410.0 L1591.7 1412.0 L1595.5 1413.9 L1599.4 1415.8 L1603.2 1417.6 L1607.0 1419.4 L1610.9 1421.1 L1614.7 1422.8 L1618.6 1424.5 L1622.4 1426.1 L1626.2 1427.7 L1630.1 1429.3 L1633.9 1430.8 L1637.7 1432.3 L1641.6 1433.8 L1645.4 1435.2 L1649.2 1436.6 L1653.1 1437.9 L1656.9 1439.3 L1660.7 1440.6 L1664.6 1441.9 L1668.4 1443.1 L1672.2 1444.3 L1676.1 1445.5 L1679.9 1446.7 L1683.7 1447.8 L1687.6 1448.9 L1691.4 1450.0 L1695.2 1451.0 L1699.1 1452.1 L1702.9 1453.1 L1706.8 1454.1 L1710.6 1455.0 L1714.4 1456.0 L1718.3 1456.9 L1722.1 1457.8 L1725.9 1458.7 L1729.8 1459.6 L1733.6 1460.4 L1737.4 1461.2 L1741.3 1462.0 L1745.1 1462.8 L1748.9 1463.6 L1752.8 1464.3 L1756.6 1465.1 L1760.4 1465.8 L1764.3 1466.5 L1768.1 1467.2 L1771.9 1467.8 L1775.8 1468.5 L1779.6 1469.1 L1783.4 1469.8 L1787.3 1470.4 L1791.1 1471.0 L1795.0 1471.6 L1798.8 1472.1 L1802.6 1472.7 L1806.5 1473.2 L1810.3 1473.8 L1814.1 1474.3 L1818.0 1474.8 L1821.8 1475.3 L1825.6 1475.8 L1829.5 1476.2 L1833.3 1476.7 L1837.1 1477.2 L1841.0 1477.6 L1844.8 1478.0 L1848.6 1478.5 L1852.5 1478.9 L1856.3 1479.3 L1860.1 1479.7 L1864.0 1480.1 L1867.8 1480.4 L1871.6 1480.8 L1875.5 1481.2 L1879.3 1481.5 L1883.2 1481.9 L1887.0 1482.2 L1890.8 1482.5 L1894.7 1482.8 L1898.5 1483.2 L1902.3 1483.5 L1906.2 1483.8 L1910.0 1484.1 L1913.8 1484.3 L1917.7 1484.6 L1921.5 1484.9 L1925.3 1485.2 L1929.2 1485.4 L1933.0 1485.7 L1936.8 1485.9 L1940.7 1486.2 L1944.5 1486.4 L1948.3 1486.6 L1952.2 1486.9 L1956.0 1487.1 L1959.8 1487.3 L1963.7 1487.5 L1967.5 1487.7 L1971.3 1487.9 L1975.2 1488.1 L1979.0 1488.3 L1982.9 1488.5 L1986.7 1488.7 L1990.5 1488.9 L1994.4 1489.0 L1998.2 1489.2 L2002.0 1489.4 L2005.9 1489.5 L2009.7 1489.7 L2013.5 1489.9 L2017.4 1490.0 L2021.2 1490.2 L2025.0 1490.3 L2028.9 1490.5 L2032.7 1490.6 L2036.5 1490.7 L2040.4 1490.9 L2044.2 1491.0 L2048.0 1491.1 L2051.9 1491.3 L2055.7 1491.4 L2059.5 1491.5 L2063.4 1491.6 L2067.2 1491.7 L2071.1 1491.8 L2074.9 1491.9 L2078.7 1492.1 L2082.6 1492.2 L2086.4 1492.3 L2090.2 1492.4 L2094.1 1492.5 L2097.9 1492.5 L2101.7 1492.6 L2105.6 1492.7 L2109.4 1492.8 L2113.2 1492.9 L2117.1 1493.0 L2120.9 1493.1 L2124.7 1493.2 L2128.6 1493.2 L2132.4 1493.3 L2136.2 1493.4 L2140.1 1493.5 L2143.9 1493.5 L2147.7 1493.6 L2151.6 1493.7 L2153.5 1493.7"/>
<path stroke="#7E2F8E" d="M238.0 839.3 L241.9 839.3 L245.7 839.3 L249.6 839.3 L253.4 839.3 L257.2 839.3 L261.1 839.4 L264.9 839.4 L268.7 839.4 L272.6 839.4 L276.4 839.4 L280.2 839.4 L284.1 839.4 L287.9 839.4 L291.7 839.4 L295.6 839.4 L299.4 839.4 L303.2 839.5 L307.1 839.5 L310.9 839.5 L314.7 839.5 L318.6 839.5 L322.4 839.5 L326.2 839.5 L330.1 839.5 L333.9 839.6 L337.8 839.6 L341.6 839.6 L345.4 839.6 L349.3 839.6 L353.1 839.6 L356.9 839.6 L360.8 839.7 L364.6 839.7 L368.4 839.7 L372.3 839.7 L376.1 839.7 L379.9 839.7 L383.8 839.8 L387.6 839.8 L391.4 839.8 L395.3 839.8 L399.1 839.8 L402.9 839.8 L406.8 839.9 L410.6 839.9 L414.4 839.9 L418.3 839.9 L422.1 840.0 L426.0 840.0 L429.8 840.0 L433.6 840.0 L437.5 840.0 L441.3 840.1 L445.1 840.1 L449.0 840.1 L452.8 840.1 L456.6 840.2 L460.5 840.2 L464.3 840.2 L468.1 840.3 L472.0 840.3 L475.8 840.3 L479.6 840.3 L483.5 840.4 L487.3 840.4 L491.1 840.4 L495.0 840.5 L498.8 840.5 L502.6 840.5 L506.5 840.6 L510.3 840.6 L514.1 840.7 L518.0 840.7 L521.8 840.7 L525.7 840.8 L529.5 840.8 L533.3 840.9 L537.2 840.9 L541.0 841.0 L544.8 841.0 L548.7 841.0 L552.5 841.1 L556.3 841.1 L560.2 841.2 L564.0 841.2 L567.8 841.3 L571.7 841.3 L575.5 841.4 L579.3 841.5 L583.2 841.5 L587.0 841.6 L590.8 841.6 L594.7 841.7 L598.5 841.8 L602.3 841.8 L606.2 841.9 L610.0 842.0 L613.9 842.0 L617.7 842.1 L621.5 842.2 L625.4 842.2 L629.2 842.3 L633.0 842.4 L636.9 842.5 L640.7 842.6 L644.5 842.6 L648.4 842.7 L652.2 842.8 L656.0 842.9 L659.9 843.0 L663.7 843.1 L667.5 843.2 L671.4 843.3 L675.2 843.4 L679.0 843.5 L682.9 843.6 L686.7 843.7 L690.5 843.8 L694.4 843.9 L698.2 844.0 L702.1 844.2 L705.9 844.3 L709.7 844.4 L713.6 844.5 L717.4 844.7 L721.2 844.8 L725.1 844.9 L728.9 845.1 L732.7 845.2 L736.6 845.3 L740.4 845.5 L744.2 845.6 L748.1 845.8 L751.9 846.0 L755.7 846.1 L759.6 846.3 L763.4 846.5 L767.2 846.6 L771.1 846.8 L774.9 847.0 L778.7 847.2 L782.6 847.4 L786.4 847.6 L790.3 847.8 L794.1 848.0 L797.9 848.2 L801.8 848.4 L805.6 848.6 L809.4 848.8 L813.3 849.1 L817.1 849.3 L820.9 849.6 L824.8 849.8 L828.6 850.1 L832.4 850.3 L836.3 850.6 L840.1 850.8 L843.9 851.1 L847.8 851.4 L851.6 851.7 L855.4 852.0 L859.3 852.3 L863.1 852.6 L866.9 852.9 L870.8 853.3 L874.6 853.6 L878.4 853.9 L882.3 854.3 L886.1 854.7 L890.0 855.0 L893.8 855.4 L897.6 855.8 L901.5 856.2 L905.3 856.6 L909.1 857.0 L913.0 857.4 L916.8 857.9 L920.6 858.3 L924.5 858.8 L928.3 859.2 L932.1 859.7 L936.0 860.2 L939.8 860.7 L943.6 861.2 L947.5 861.8 L951.3 862.3 L955.1 862.9 L959.0 863.4 L962.8 864.0 L966.6 864.6 L970.5 865.2 L974.3 865.8 L978.2 866.5 L982.0 867.1 L985.8 867.8 L989.7 868.5 L993.5 869.2 L997.3 870.0 L1001.2 870.7 L1005.0 871.5 L1008.8 872.3 L1012.7 873.1 L1016.5 873.9 L1020.3 874.8 L1024.2 875.6 L1028.0 876.5 L1031.8 877.5 L1035.7 878.4 L1039.5 879.4 L1043.3 880.4 L1047.2 881.4 L1051.0 882.5 L1054.8 883.5 L1058.7 884.7 L1062.5 885.8 L1066.4 887.0 L1070.2 888.2 L1074.0 889.5 L1077.9 890.8 L1081.7 892.1 L1085.5 893.5 L1089.4 894.9 L1093.2 896.3 L1097.0 897.8 L1100.9 899.4 L1104.7 901.0 L1108.5 902.6 L1112.4 904.3 L1116.2 906.1 L1120.0 907.9 L1123.9 909.8 L1127.7 911.7 L1131.5 913.7 L1135.4 915.8 L1139.2 918.0 L1143.0 920.2 L1146.9 922.5 L1150.7 924.9 L1154.6 927.4 L1158.4 930.0 L1162.2 932.7 L1166.1 935.5 L1169.9 938.4 L1173.7 941.4 L1177.6 944.6 L1181.4 947.8 L1185.2 951.3 L1189.1 954.8 L1192.9 958.5 L1196.7 962.4 L1200.6 966.4 L1204.4 970.6 L1208.2 974.9 L1212.1 979.5 L1215.9 984.2 L1219.7 989.1 L1223.6 994.2 L1227.4 999.5 L1231.2 1005.0 L1235.1 1010.6 L1238.9 1016.5 L1242.7 1022.5 L1244.7 1025.5 L1246.6 1028.6 L1248.5 1031.7 L1250.4 1034.9 L1252.3 1038.1 L1254.3 1041.3 L1256.2 1044.6 L1258.1 1047.9 L1260.0 1051.2 L1261.9 1054.5 L1263.8 1057.8 L1265.8 1061.1 L1267.7 1064.5 L1269.6 1067.8 L1271.5 1071.2 L1273.4 1074.6 L1275.3 1077.9 L1277.3 1081.3 L1279.2 1084.6 L1281.1 1087.9 L1283.0 1091.3 L1284.9 1094.6 L1286.8 1097.8 L1288.8 1101.1 L1290.7 1104.4 L1292.6 1107.6 L1294.5 1110.8 L1296.4 1113.9 L1298.4 1117.1 L1300.3 1120.2 L1302.2 1123.3 L1304.1 1126.3 L1306.0 1129.3 L1309.9 1135.3 L1313.7 1141.1 L1317.5 1146.8 L1321.4 1152.4 L1325.2 1157.9 L1329.0 1163.2 L1332.9 1168.5 L1336.7 1173.6 L1340.5 1178.7 L1344.4 1183.6 L1348.2 1188.5 L1352.0 1193.3 L1355.9 1198.0 L1359.7 1202.7 L1363.5 1207.3 L1367.4 1211.8 L1371.2 1216.3 L1375.0 1220.7 L1378.9 1225.1 L1382.7 1229.5 L1386.6 1233.8 L1390.4 1238.1 L1394.2 1242.3 L1398.1 1246.6 L1401.9 1250.8 L1405.7 1254.9 L1409.6 1259.1 L1413.4 1263.2 L1417.2 1267.3 L1421.1 1271.4 L1424.9 1275.5 L1428.7 1279.5 L1432.6 1283.5 L1436.4 1287.5 L1440.2 1291.4 L1444.1 1295.3 L1447.9 1299.2 L1451.7 1303.1 L1455.6 1306.9 L1459.4 1310.7 L1463.2 1314.4 L1467.1 1318.1 L1470.9 1321.8 L1474.8 1325.4 L1478.6 1329.0 L1482.4 1332.5 L1486.3 1336.0 L1490.1 1339.4 L1493.9 1342.8 L1497.8 1346.1 L1501.6 1349.4 L1505.4 1352.7 L1509.3 1355.8 L1513.1 1358.9 L1516.9 1362.0 L1520.8 1365.0 L1524.6 1368.0 L1528.4 1370.8 L1532.3 1373.7 L1536.1 1376.5 L1539.9 1379.2 L1543.8 1381.9 L1547.6 1384.5 L1551.4 1387.0 L1555.3 1389.5 L1559.1 1392.0 L1563.0 1394.4 L1566.8 1396.7 L1570.6 1399.0 L1574.5 1401.3 L1578.3 1403.5 L1582.1 1405.6 L1586.0 1407.7 L1589.8 1409.8 L1593.6 1411.8 L1597.5 1413.7 L1601.3 1415.6 L1605.1 1417.5 L1609.0 1419.3 L1612.8 1421.1 L1616.6 1422.9 L1620.5 1424.6 L1624.3 1426.2 L1628.1 1427.8 L1632.0 1429.4 L1635.8 1431.0 L1639.6 1432.5 L1643.5 1434.0 L1647.3 1435.4 L1651.1 1436.8 L1655.0 1438.2 L1658.8 1439.5 L1662.7 1440.9 L1666.5 1442.1 L1670.3 1443.4 L1674.2 1444.6 L1678.0 1445.8 L1681.8 1447.0 L1685.7 1448.1 L1689.5 1449.2 L1693.3 1450.3 L1697.2 1451.4 L1701.0 1452.4 L1704.8 1453.4 L1708.7 1454.4 L1712.5 1455.4 L1716.3 1456.3 L1720.2 1457.3 L1724.0 1458.2 L1727.8 1459.0 L1731.7 1459.9 L1735.5 1460.7 L1739.3 1461.6 L1743.2 1462.4 L1747.0 1463.2 L1750.9 1463.9 L1754.7 1464.7 L1758.5 1465.4 L1762.4 1466.1 L1766.2 1466.8 L1770.0 1467.5 L1773.9 1468.2 L1777.7 1468.8 L1781.5 1469.4 L1785.4 1470.1 L1789.2 1470.7 L1793.0 1471.3 L1796.9 1471.8 L1800.7 1472.4 L1804.5 1473.0 L1808.4 1473.5 L1812.2 1474.0 L1816.0 1474.5 L1819.9 1475.0 L1823.7 1475.5 L1827.5 1476.0 L1831.4 1476.5 L1835.2 1476.9 L1839.1 1477.4 L1842.9 1477.8 L1846.7 1478.3 L1850.6 1478.7 L1854.4 1479.1 L1858.2 1479.5 L1862.1 1479.9 L1865.9 1480.3 L1869.7 1480.6 L1873.6 1481.0 L1877.4 1481.4 L1881.2 1481.7 L1885.1 1482.0 L1888.9 1482.4 L1892.7 1482.7 L1896.6 1483.0 L1900.4 1483.3 L1904.2 1483.6 L1908.1 1483.9 L1911.9 1484.2 L1915.7 1484.5 L1919.6 1484.8 L1923.4 1485.0 L1927.3 1485.3 L1931.1 1485.6 L1934.9 1485.8 L1938.8 1486.1 L1942.6 1486.3 L1946.4 1486.5 L1950.3 1486.8 L1954.1 1487.0 L1957.9 1487.2 L1961.8 1487.4 L1965.6 1487.6 L1969.4 1487.8 L1973.3 1488.0 L1977.1 1488.2 L1980.9 1488.4 L1984.8 1488.6 L1988.6 1488.8 L1992.4 1489.0 L1996.3 1489.1 L2000.1 1489.3 L2003.9 1489.5 L2007.8 1489.6 L2011.6 1489.8 L2015.4 1490.0 L2019.3 1490.1 L2023.1 1490.3 L2027.0 1490.4 L2030.8 1490.5 L2034.6 1490.7 L2038.5 1490.8 L2042.3 1490.9 L2046.1 1491.1 L2050.0 1491.2 L2053.8 1491.3 L2057.6 1491.4 L2061.5 1491.6 L2065.3 1491.7 L2069.1 1491.8 L2073.0 1491.9 L2076.8 1492.0 L2080.6 1492.1 L2084.5 1492.2 L2088.3 1492.3 L2092.1 1492.4 L2096.0 1492.5 L2099.8 1492.6 L2103.6 1492.7 L2107.5 1492.8 L2111.3 1492.9 L2115.2 1493.0 L2119.0 1493.0 L2122.8 1493.1 L2126.7 1493.2 L2130.5 1493.3 L2134.3 1493.3 L2138.2 1493.4 L2142.0 1493.5 L2145.8 1493.6 L2149.7 1493.6 L2153.5 1493.7"/>
<path stroke="#0072BD" stroke-width="12.3" d="M1417 885.9H1595.2"/>
<path stroke="#D95319" stroke-width="12.3" d="M1417 959.0H1595.2"/>
<path stroke="#EDB120" stroke-width="12.3" d="M1417 1032.7H1595.2"/>
<path stroke="#7E2F8E" stroke-width="12.3" d="M1417 1105.7H1595.2"/>
</g>
<text class="sa" x="200.75" y="1594.90" font-size="68.3" textLength="66.38" lengthAdjust="spacingAndGlyphs">10</text>
<text class="sa" transform="translate(267.73 1566.00) scale(0.9000 1)" font-size="51.2" dx="0 7.06" dy="2 -2">−1</text>
<text class="sa" x="590.75" y="1594.90" font-size="68.3" textLength="64.93" lengthAdjust="spacingAndGlyphs">10</text>
<text class="sa" x="654.24" y="1566.00" font-size="51.2" textLength="23.62" lengthAdjust="spacingAndGlyphs">0</text>
<text class="sa" x="973.55" y="1594.90" font-size="68.3" textLength="64.93" lengthAdjust="spacingAndGlyphs">10</text>
<text class="sa" x="1036.78" y="1566.00" font-size="51.2" textLength="25.67" lengthAdjust="spacingAndGlyphs">1</text>
<text class="sa" x="1360.06" y="1594.90" font-size="68.3" textLength="66.27" lengthAdjust="spacingAndGlyphs">10</text>
<text class="sa" x="1419.87" y="1566.00" font-size="51.2" textLength="26.86" lengthAdjust="spacingAndGlyphs">2</text>
<text class="sa" x="1742.35" y="1594.90" font-size="68.3" textLength="64.93" lengthAdjust="spacingAndGlyphs">10</text>
<text class="sa" x="1803.26" y="1566.00" font-size="51.2" textLength="25.34" lengthAdjust="spacingAndGlyphs">3</text>
<text class="sa" x="2125.03" y="1594.90" font-size="68.3" textLength="65.26" lengthAdjust="spacingAndGlyphs">10</text>
<text class="sa" x="2187.00" y="1566.00" font-size="51.2" textLength="24.28" lengthAdjust="spacingAndGlyphs">4</text>
<text class="sa" transform="translate(984.42 1655.80) scale(0.9750 1)" font-size="67.3" dx="0 1.07 -6.65 3.83 -3.08 4.08 -4.17 -3.1 0.12">Frequency</text>
<text class="sa" transform="translate(1322.03 1655.80) scale(0.9750 1)" font-size="67.3" dx="0 2.42 0.02 -2.63 -4.04 1.69 1.26">(rad/s)</text>
<text class="sa" transform="translate(93.00 632.43) rotate(-90)" font-size="67.3" textLength="435.58" lengthAdjust="spacingAndGlyphs">Magnitude (dB)</text>
<text class="sa" transform="translate(109.00 1335.14) rotate(-90)" font-size="67.3" textLength="348.10" lengthAdjust="spacingAndGlyphs">Phase (deg)</text>
<text class="sf it" x="1617.23" y="902.30" font-size="65.6" textLength="49.34" lengthAdjust="spacingAndGlyphs">G</text>
<text class="sf" x="1664.22" y="911.60" font-size="38" textLength="36.78" lengthAdjust="spacingAndGlyphs">rv</text>
<text class="sf" x="1699.39" y="902.30" font-size="65.6" textLength="22.82" lengthAdjust="spacingAndGlyphs">(</text>
<text class="sf it" x="1721.11" y="902.30" font-size="65.6" textLength="28.29" lengthAdjust="spacingAndGlyphs">s</text>
<text class="sf" x="1746.99" y="902.30" font-size="65.6" textLength="22.82" lengthAdjust="spacingAndGlyphs">)</text>
<text class="sf" transform="translate(1783.87 902.30) scale(1.0200 1)" font-size="65.6" dx="0 0 -5.51 -0.15 -0.97 0 -1.38 4.72 -0.52 -1.82">Droop mode</text>
<text class="sf it" x="1620.18" y="980.00" font-size="65.6" textLength="48.16" lengthAdjust="spacingAndGlyphs">Φ</text>
<text class="sf" x="1667.66" y="989.30" font-size="38" textLength="34.84" lengthAdjust="spacingAndGlyphs">rv</text>
<text class="sf" x="1702.59" y="980.00" font-size="65.6" textLength="22.82" lengthAdjust="spacingAndGlyphs">(</text>
<text class="sf it" x="1724.54" y="980.00" font-size="65.6" textLength="27.50" lengthAdjust="spacingAndGlyphs">s</text>
<text class="sf" x="1749.44" y="980.00" font-size="65.6" textLength="23.34" lengthAdjust="spacingAndGlyphs">)</text>
<text class="sf" transform="translate(1787.07 980.00) scale(1.0200 1)" font-size="65.6" dx="0 0 -5.51 -0.84 -0.28 0 -2.46 4.81 -0.32 -1.82">Droop mode</text>
<text class="sf it" x="1617.06" y="1057.00" font-size="65.6" textLength="48.89" lengthAdjust="spacingAndGlyphs">G</text>
<text class="sf" x="1663.99" y="1066.30" font-size="38" textLength="37.91" lengthAdjust="spacingAndGlyphs">rv</text>
<text class="sf" x="1699.87" y="1057.00" font-size="65.6" textLength="22.95" lengthAdjust="spacingAndGlyphs">(</text>
<text class="sf it" x="1721.82" y="1057.00" font-size="65.6" textLength="27.95" lengthAdjust="spacingAndGlyphs">s</text>
<text class="sf" x="1747.03" y="1057.00" font-size="65.6" textLength="23.47" lengthAdjust="spacingAndGlyphs">)</text>
<text class="sf" transform="translate(1783.77 1057.00) scale(1.0200 1)" font-size="65.6" dx="0 -2.87 0 -0.7 -2.74 -2.08 -1.42">PQ mode</text>
<text class="sf it" x="1619.77" y="1134.50" font-size="65.6" textLength="48.38" lengthAdjust="spacingAndGlyphs">Φ</text>
<text class="sf" x="1667.73" y="1143.80" font-size="38" textLength="36.27" lengthAdjust="spacingAndGlyphs">rv</text>
<text class="sf" x="1701.97" y="1134.50" font-size="65.6" textLength="22.95" lengthAdjust="spacingAndGlyphs">(</text>
<text class="sf it" x="1723.92" y="1134.50" font-size="65.6" textLength="27.95" lengthAdjust="spacingAndGlyphs">s</text>
<text class="sf" x="1749.45" y="1134.50" font-size="65.6" textLength="24.25" lengthAdjust="spacingAndGlyphs">)</text>
<text class="sf" transform="translate(1786.27 1134.50) scale(1.0200 1)" font-size="65.6" dx="0 -2.87 0 -0.5 -3.03 -1.89 -1.62">PQ mode</text>
</svg></body></html>
